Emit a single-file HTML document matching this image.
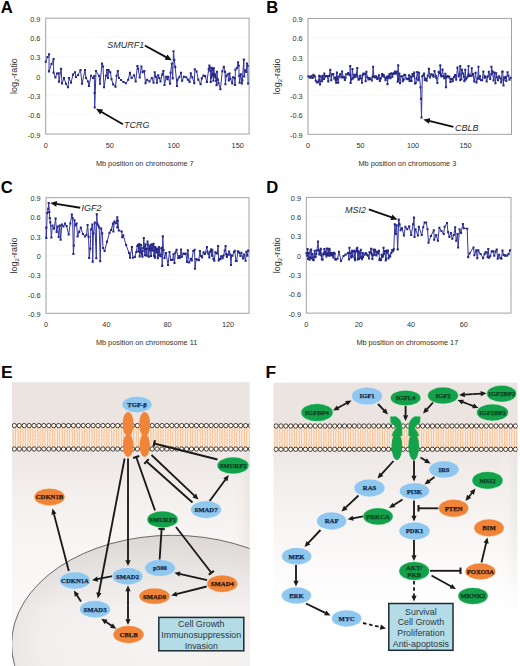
<!DOCTYPE html><html><head><meta charset="utf-8"><style>
html,body{margin:0;padding:0;background:#fff;width:520px;height:666px;overflow:hidden}
svg{display:block}
.ax{font-family:"Liberation Sans", sans-serif;font-size:7.3px;fill:#303030}
.yt{font-family:"Liberation Sans", sans-serif;font-size:9px;fill:#303030}
.gene{font-family:"Liberation Sans", sans-serif;font-size:9px;font-style:italic;fill:#2a2a2a}
.plet{font-family:"Liberation Sans", sans-serif;font-size:16.6px;font-weight:bold;fill:#000}
.nd{font-family:"Liberation Serif", serif;font-size:7.5px;font-weight:bold;text-anchor:middle}
.bx{font-family:"Liberation Sans", sans-serif;font-size:8.9px;fill:#2b3840;text-anchor:middle}
</style></head><body>
<svg width="520" height="666" viewBox="0 0 520 666">
<rect width="520" height="666" fill="#fff"/>
<line x1="45.7" y1="37.50" x2="249.1" y2="37.50" stroke="#f7f7f7" stroke-width="0.8"/>
<line x1="45.7" y1="56.80" x2="249.1" y2="56.80" stroke="#f7f7f7" stroke-width="0.8"/>
<line x1="45.7" y1="76.10" x2="249.1" y2="76.10" stroke="#f7f7f7" stroke-width="0.8"/>
<line x1="45.7" y1="95.40" x2="249.1" y2="95.40" stroke="#f7f7f7" stroke-width="0.8"/>
<line x1="45.7" y1="114.70" x2="249.1" y2="114.70" stroke="#f7f7f7" stroke-width="0.8"/>
<rect x="45.7" y="18.2" width="203.39999999999998" height="115.8" fill="none" stroke="#a0a0a0" stroke-width="1"/>
<text x="40.400000000000006" y="21.70" text-anchor="end" class="ax">0.9</text>
<text x="40.400000000000006" y="41.00" text-anchor="end" class="ax">0.6</text>
<text x="40.400000000000006" y="60.30" text-anchor="end" class="ax">0.3</text>
<text x="40.400000000000006" y="79.60" text-anchor="end" class="ax">0</text>
<text x="40.400000000000006" y="98.90" text-anchor="end" class="ax">-0.3</text>
<text x="40.400000000000006" y="118.20" text-anchor="end" class="ax">-0.6</text>
<text x="40.400000000000006" y="137.50" text-anchor="end" class="ax">-0.9</text>
<text x="45.70" y="147.90" text-anchor="middle" class="ax">0</text>
<text x="109.70" y="147.90" text-anchor="middle" class="ax">50</text>
<text x="173.70" y="147.90" text-anchor="middle" class="ax">100</text>
<text x="237.70" y="147.90" text-anchor="middle" class="ax">150</text>
<text x="144.80" y="165.60" text-anchor="middle" class="ax">Mb position on chromosome 7</text>
<text transform="translate(17.40,76.10) rotate(-90)" text-anchor="middle" class="yt">log<tspan font-size="6" dy="2">2</tspan><tspan dy="-2">-ratio</tspan></text>
<polyline points="45.80,61.80 47.50,57.00 49.10,54.30 49.00,71.40 51.50,64.00 53.60,59.10 53.60,72.60 55.40,77.40 57.00,73.50 58.70,73.20 59.00,81.60 61.10,68.70 62.00,83.40 64.00,78.00 66.00,83.80 68.00,87.30 69.00,78.00 71.00,82.70 73.00,74.60 75.00,72.30 76.00,77.00 78.00,75.00 80.50,70.00 82.00,83.80 85.00,70.00 86.00,78.00 88.00,81.50 89.00,86.00 91.00,75.80 93.00,78.00 94.30,76.00 94.60,93.00 94.70,107.50 96.00,71.00 99.00,75.80 100.00,83.80 102.00,63.60 103.00,66.50 104.00,87.30 106.00,75.80 107.00,70.00 108.00,78.00 108.60,70.00 110.30,72.30 111.50,79.20 113.20,84.40 115.50,86.70 116.60,75.80 117.80,71.10 119.00,78.00 121.00,80.00 123.50,82.00 125.90,83.30 128.20,79.80 129.90,72.90 131.60,78.00 134.00,75.20 135.70,81.50 137.40,66.00 138.20,68.80 139.70,77.50 141.40,66.50 142.60,72.30 144.30,71.10 145.50,83.30 147.20,79.80 149.50,81.50 151.80,78.00 153.60,82.70 154.70,72.30 155.90,76.90 157.00,82.70 158.20,75.20 159.30,78.00 160.50,81.50 162.20,74.60 163.40,71.10 164.50,85.00 166.20,76.90 167.40,79.20 168.30,76.70 170.00,83.60 170.60,72.70 171.80,63.50 172.70,78.40 173.50,51.30 174.30,60.00 175.20,66.90 177.00,86.00 177.50,79.60 179.30,77.30 181.00,72.70 182.10,80.80 183.90,76.70 186.20,77.30 187.90,79.60 189.60,81.90 190.80,73.30 192.30,77.30 194.30,83.10 194.80,69.20 196.60,71.50 198.30,79.60 200.60,84.20 201.80,78.40 203.50,75.60 205.20,76.10 206.90,81.90 208.70,69.20 209.40,65.50 209.80,67.71 210.25,70.74 210.70,82.03 211.15,77.64 211.60,67.88 212.05,74.66 212.50,75.58 212.95,69.19 213.40,80.69 213.85,68.27 214.30,73.82 214.75,76.33 215.20,74.61 215.65,77.74 216.10,80.76 216.55,85.13 217.00,71.68 217.45,78.97 217.90,79.92 218.50,83.10 220.40,89.20 222.30,71.20 223.80,66.90 225.00,71.90 225.40,84.20 226.20,75.80 227.70,74.20 228.80,80.40 229.60,73.50 230.40,78.80 232.30,83.50 233.10,77.30 234.60,78.10 235.00,85.00 235.40,69.60 236.90,68.10 238.10,62.30 238.80,65.80 239.20,75.80 239.60,82.70 240.80,74.20 241.90,83.50 242.30,80.40 243.80,59.60 244.20,76.50 245.00,70.40 246.20,71.90 246.90,63.50 247.70,65.80 248.10,83.50" fill="none" stroke="#3436a0" stroke-width="1.0" stroke-linejoin="round"/>
<path d="M44.75,60.75h2.1v2.1h-2.1zM46.45,55.95h2.1v2.1h-2.1zM48.05,53.25h2.1v2.1h-2.1zM47.95,70.35h2.1v2.1h-2.1zM50.45,62.95h2.1v2.1h-2.1zM52.55,58.05h2.1v2.1h-2.1zM52.55,71.55h2.1v2.1h-2.1zM54.35,76.35h2.1v2.1h-2.1zM55.95,72.45h2.1v2.1h-2.1zM57.65,72.15h2.1v2.1h-2.1zM57.95,80.55h2.1v2.1h-2.1zM60.05,67.65h2.1v2.1h-2.1zM60.95,82.35h2.1v2.1h-2.1zM62.95,76.95h2.1v2.1h-2.1zM64.95,82.75h2.1v2.1h-2.1zM66.95,86.25h2.1v2.1h-2.1zM67.95,76.95h2.1v2.1h-2.1zM69.95,81.65h2.1v2.1h-2.1zM71.95,73.55h2.1v2.1h-2.1zM73.95,71.25h2.1v2.1h-2.1zM74.95,75.95h2.1v2.1h-2.1zM76.95,73.95h2.1v2.1h-2.1zM79.45,68.95h2.1v2.1h-2.1zM80.95,82.75h2.1v2.1h-2.1zM83.95,68.95h2.1v2.1h-2.1zM84.95,76.95h2.1v2.1h-2.1zM86.95,80.45h2.1v2.1h-2.1zM87.95,84.95h2.1v2.1h-2.1zM89.95,74.75h2.1v2.1h-2.1zM91.95,76.95h2.1v2.1h-2.1zM93.25,74.95h2.1v2.1h-2.1zM93.55,91.95h2.1v2.1h-2.1zM93.65,106.45h2.1v2.1h-2.1zM94.95,69.95h2.1v2.1h-2.1zM97.95,74.75h2.1v2.1h-2.1zM98.95,82.75h2.1v2.1h-2.1zM100.95,62.55h2.1v2.1h-2.1zM101.95,65.45h2.1v2.1h-2.1zM102.95,86.25h2.1v2.1h-2.1zM104.95,74.75h2.1v2.1h-2.1zM105.95,68.95h2.1v2.1h-2.1zM106.95,76.95h2.1v2.1h-2.1zM107.55,68.95h2.1v2.1h-2.1zM109.25,71.25h2.1v2.1h-2.1zM110.45,78.15h2.1v2.1h-2.1zM112.15,83.35h2.1v2.1h-2.1zM114.45,85.65h2.1v2.1h-2.1zM115.55,74.75h2.1v2.1h-2.1zM116.75,70.05h2.1v2.1h-2.1zM117.95,76.95h2.1v2.1h-2.1zM119.95,78.95h2.1v2.1h-2.1zM122.45,80.95h2.1v2.1h-2.1zM124.85,82.25h2.1v2.1h-2.1zM127.15,78.75h2.1v2.1h-2.1zM128.85,71.85h2.1v2.1h-2.1zM130.55,76.95h2.1v2.1h-2.1zM132.95,74.15h2.1v2.1h-2.1zM134.65,80.45h2.1v2.1h-2.1zM136.35,64.95h2.1v2.1h-2.1zM137.15,67.75h2.1v2.1h-2.1zM138.65,76.45h2.1v2.1h-2.1zM140.35,65.45h2.1v2.1h-2.1zM141.55,71.25h2.1v2.1h-2.1zM143.25,70.05h2.1v2.1h-2.1zM144.45,82.25h2.1v2.1h-2.1zM146.15,78.75h2.1v2.1h-2.1zM148.45,80.45h2.1v2.1h-2.1zM150.75,76.95h2.1v2.1h-2.1zM152.55,81.65h2.1v2.1h-2.1zM153.65,71.25h2.1v2.1h-2.1zM154.85,75.85h2.1v2.1h-2.1zM155.95,81.65h2.1v2.1h-2.1zM157.15,74.15h2.1v2.1h-2.1zM158.25,76.95h2.1v2.1h-2.1zM159.45,80.45h2.1v2.1h-2.1zM161.15,73.55h2.1v2.1h-2.1zM162.35,70.05h2.1v2.1h-2.1zM163.45,83.95h2.1v2.1h-2.1zM165.15,75.85h2.1v2.1h-2.1zM166.35,78.15h2.1v2.1h-2.1zM167.25,75.65h2.1v2.1h-2.1zM168.95,82.55h2.1v2.1h-2.1zM169.55,71.65h2.1v2.1h-2.1zM170.75,62.45h2.1v2.1h-2.1zM171.65,77.35h2.1v2.1h-2.1zM172.45,50.25h2.1v2.1h-2.1zM173.25,58.95h2.1v2.1h-2.1zM174.15,65.85h2.1v2.1h-2.1zM175.95,84.95h2.1v2.1h-2.1zM176.45,78.55h2.1v2.1h-2.1zM178.25,76.25h2.1v2.1h-2.1zM179.95,71.65h2.1v2.1h-2.1zM181.05,79.75h2.1v2.1h-2.1zM182.85,75.65h2.1v2.1h-2.1zM185.15,76.25h2.1v2.1h-2.1zM186.85,78.55h2.1v2.1h-2.1zM188.55,80.85h2.1v2.1h-2.1zM189.75,72.25h2.1v2.1h-2.1zM191.25,76.25h2.1v2.1h-2.1zM193.25,82.05h2.1v2.1h-2.1zM193.75,68.15h2.1v2.1h-2.1zM195.55,70.45h2.1v2.1h-2.1zM197.25,78.55h2.1v2.1h-2.1zM199.55,83.15h2.1v2.1h-2.1zM200.75,77.35h2.1v2.1h-2.1zM202.45,74.55h2.1v2.1h-2.1zM204.15,75.05h2.1v2.1h-2.1zM205.85,80.85h2.1v2.1h-2.1zM207.65,68.15h2.1v2.1h-2.1zM208.35,64.45h2.1v2.1h-2.1zM208.75,66.66h2.1v2.1h-2.1zM209.20,69.69h2.1v2.1h-2.1zM209.65,80.98h2.1v2.1h-2.1zM210.10,76.59h2.1v2.1h-2.1zM210.55,66.83h2.1v2.1h-2.1zM211.00,73.61h2.1v2.1h-2.1zM211.45,74.53h2.1v2.1h-2.1zM211.90,68.14h2.1v2.1h-2.1zM212.35,79.64h2.1v2.1h-2.1zM212.80,67.22h2.1v2.1h-2.1zM213.25,72.77h2.1v2.1h-2.1zM213.70,75.28h2.1v2.1h-2.1zM214.15,73.56h2.1v2.1h-2.1zM214.60,76.69h2.1v2.1h-2.1zM215.05,79.71h2.1v2.1h-2.1zM215.50,84.08h2.1v2.1h-2.1zM215.95,70.63h2.1v2.1h-2.1zM216.40,77.92h2.1v2.1h-2.1zM216.85,78.87h2.1v2.1h-2.1zM217.45,82.05h2.1v2.1h-2.1zM219.35,88.15h2.1v2.1h-2.1zM221.25,70.15h2.1v2.1h-2.1zM222.75,65.85h2.1v2.1h-2.1zM223.95,70.85h2.1v2.1h-2.1zM224.35,83.15h2.1v2.1h-2.1zM225.15,74.75h2.1v2.1h-2.1zM226.65,73.15h2.1v2.1h-2.1zM227.75,79.35h2.1v2.1h-2.1zM228.55,72.45h2.1v2.1h-2.1zM229.35,77.75h2.1v2.1h-2.1zM231.25,82.45h2.1v2.1h-2.1zM232.05,76.25h2.1v2.1h-2.1zM233.55,77.05h2.1v2.1h-2.1zM233.95,83.95h2.1v2.1h-2.1zM234.35,68.55h2.1v2.1h-2.1zM235.85,67.05h2.1v2.1h-2.1zM237.05,61.25h2.1v2.1h-2.1zM237.75,64.75h2.1v2.1h-2.1zM238.15,74.75h2.1v2.1h-2.1zM238.55,81.65h2.1v2.1h-2.1zM239.75,73.15h2.1v2.1h-2.1zM240.85,82.45h2.1v2.1h-2.1zM241.25,79.35h2.1v2.1h-2.1zM242.75,58.55h2.1v2.1h-2.1zM243.15,75.45h2.1v2.1h-2.1zM243.95,69.35h2.1v2.1h-2.1zM245.15,70.85h2.1v2.1h-2.1zM245.85,62.45h2.1v2.1h-2.1zM246.65,64.75h2.1v2.1h-2.1zM247.05,82.45h2.1v2.1h-2.1z" fill="#262884"/>
<text x="107.3" y="48.0" class="gene">SMURF1</text>
<line x1="144.80" y1="45.50" x2="166.53" y2="57.33" stroke="#111" stroke-width="1.9"/>
<polygon points="171.80,60.20 164.70,59.64 167.48,54.54" fill="#111"/>
<text x="124" y="127.5" class="gene">TCRG</text>
<line x1="122.90" y1="124.20" x2="101.20" y2="111.70" stroke="#111" stroke-width="1.9"/>
<polygon points="96.00,108.70 103.08,109.43 100.18,114.46" fill="#111"/>
<text x="0.8" y="13.2" class="plet">A</text>
<line x1="308.0" y1="37.72" x2="511.5" y2="37.72" stroke="#f7f7f7" stroke-width="0.8"/>
<line x1="308.0" y1="57.03" x2="511.5" y2="57.03" stroke="#f7f7f7" stroke-width="0.8"/>
<line x1="308.0" y1="76.35" x2="511.5" y2="76.35" stroke="#f7f7f7" stroke-width="0.8"/>
<line x1="308.0" y1="95.67" x2="511.5" y2="95.67" stroke="#f7f7f7" stroke-width="0.8"/>
<line x1="308.0" y1="114.98" x2="511.5" y2="114.98" stroke="#f7f7f7" stroke-width="0.8"/>
<rect x="308.0" y="18.4" width="203.5" height="115.9" fill="none" stroke="#a0a0a0" stroke-width="1"/>
<text x="302.7" y="21.90" text-anchor="end" class="ax">0.9</text>
<text x="302.7" y="41.22" text-anchor="end" class="ax">0.6</text>
<text x="302.7" y="60.53" text-anchor="end" class="ax">0.3</text>
<text x="302.7" y="79.85" text-anchor="end" class="ax">0</text>
<text x="302.7" y="99.17" text-anchor="end" class="ax">-0.3</text>
<text x="302.7" y="118.48" text-anchor="end" class="ax">-0.6</text>
<text x="302.7" y="137.80" text-anchor="end" class="ax">-0.9</text>
<text x="308.00" y="147.90" text-anchor="middle" class="ax">0</text>
<text x="360.50" y="147.90" text-anchor="middle" class="ax">50</text>
<text x="413.00" y="147.90" text-anchor="middle" class="ax">100</text>
<text x="465.50" y="147.90" text-anchor="middle" class="ax">150</text>
<text x="407.40" y="165.60" text-anchor="middle" class="ax">Mb position on chromosome 3</text>
<text transform="translate(279.90,76.35) rotate(-90)" text-anchor="middle" class="yt">log<tspan font-size="6" dy="2">2</tspan><tspan dy="-2">-ratio</tspan></text>
<polyline points="308.50,76.35 309.69,77.23 310.30,77.81 311.47,76.16 312.59,77.93 313.42,74.77 314.08,76.01 314.88,76.44 315.78,80.68 316.88,82.47 318.14,82.28 318.70,80.43 319.17,75.85 320.03,84.45 321.23,76.51 322.09,81.28 322.73,75.88 323.32,78.95 323.91,78.95 324.34,73.50 324.90,76.71 326.07,76.14 327.22,76.10 328.27,81.33 329.16,75.97 330.32,69.91 331.26,80.21 332.01,74.49 332.56,74.15 333.31,74.20 334.24,78.53 335.21,77.84 335.76,80.17 336.20,82.79 336.39,76.98 336.89,72.66 337.50,78.91 338.18,82.76 339.17,76.66 340.31,74.13 341.51,77.54 342.06,71.45 343.27,77.33 343.85,76.74 344.82,79.94 345.56,77.78 346.19,74.25 347.36,74.20 348.25,72.96 349.32,74.47 350.06,75.23 350.20,66.05 350.59,82.90 351.57,79.25 352.44,69.12 353.16,78.36 354.16,74.76 355.03,77.01 356.23,74.68 357.30,67.98 357.45,76.60 358.51,79.74 359.05,79.11 360.17,75.73 361.13,78.25 361.99,82.78 362.61,75.18 363.34,73.62 364.06,73.91 364.97,73.84 365.63,81.30 366.43,71.71 367.30,77.23 368.48,79.49 369.40,78.10 370.57,78.90 371.78,80.46 372.57,76.85 373.10,66.69 373.81,76.31 374.92,77.40 375.95,76.32 376.66,77.32 377.26,78.95 377.86,78.51 379.00,75.26 379.83,81.03 380.82,78.38 382.06,73.98 383.02,76.12 383.60,74.89 384.38,76.81 385.49,80.27 386.01,77.98 387.12,76.46 387.50,84.08 387.99,77.99 388.46,77.32 388.90,76.28 389.53,74.16 390.44,78.16 391.37,73.29 392.37,76.80 393.06,73.83 393.94,73.38 394.93,71.47 395.51,73.58 395.97,73.54 397.21,71.57 397.68,81.79 398.20,65.40 398.38,79.62 399.33,73.65 400.03,83.14 401.13,76.21 402.20,76.23 402.80,81.22 403.77,79.48 404.27,74.72 405.23,75.04 406.34,78.47 407.38,79.20 408.57,78.87 409.01,75.26 409.62,80.83 410.85,76.64 411.49,81.02 412.47,73.96 413.22,76.09 414.21,72.63 414.95,83.43 415.84,82.69 416.47,78.56 417.29,72.06 418.35,80.12 419.03,72.71 420.50,87.30 421.00,98.89 421.50,117.56 422.30,76.35 423.00,75.51 423.57,75.55 424.09,73.50 424.79,79.87 425.98,78.44 426.60,80.78 427.85,75.74 428.94,68.83 430.04,77.56 431.24,74.19 432.02,74.71 432.94,75.37 433.56,76.78 434.49,70.96 435.75,75.73 436.36,77.92 437.39,82.96 438.74,71.86 439.95,73.04 440.30,65.40 440.76,74.85 441.37,76.52 442.50,69.67 443.35,75.94 444.18,78.24 445.39,73.68 446.00,87.30 446.19,77.09 447.29,75.97 448.49,77.27 449.29,76.59 450.42,82.07 451.00,79.12 452.20,78.78 452.76,81.19 454.10,76.96 455.06,74.94 456.19,79.67 457.46,67.66 458.60,76.52 459.48,74.43 460.20,66.05 460.21,80.13 461.31,79.32 461.81,69.62 463.06,73.50 463.73,76.49 464.39,81.11 465.29,69.80 465.90,79.47 466.79,77.72 467.84,76.53 468.50,66.05 468.76,74.52 469.68,75.87 470.61,76.04 471.77,68.24 472.38,75.48 472.93,74.16 474.23,81.33 475.55,72.89 476.46,82.53 477.73,78.42 478.47,66.69 478.98,78.82 479.85,75.93 480.98,80.30 482.12,80.30 483.33,71.46 484.44,77.60 485.04,76.23 485.64,77.06 486.63,81.47 487.92,76.47 488.84,71.71 490.16,78.84 491.33,74.14 491.40,66.69 492.50,71.60 493.53,80.55 494.37,72.49 495.44,83.29 496.19,73.32 496.83,77.24 497.97,80.20 499.08,76.41 500.39,78.29 501.21,82.38 502.13,71.78 502.66,71.43 503.50,85.36 503.61,79.87 504.10,77.54 505.11,77.85 505.63,76.92 506.28,80.85 507.52,72.18 508.38,75.69 509.47,79.61 510.64,77.77" fill="none" stroke="#3436a0" stroke-width="1.0" stroke-linejoin="round"/>
<path d="M307.45,75.30h2.1v2.1h-2.1zM308.64,76.18h2.1v2.1h-2.1zM309.25,76.76h2.1v2.1h-2.1zM310.42,75.11h2.1v2.1h-2.1zM311.54,76.88h2.1v2.1h-2.1zM312.37,73.72h2.1v2.1h-2.1zM313.03,74.96h2.1v2.1h-2.1zM313.83,75.39h2.1v2.1h-2.1zM314.73,79.63h2.1v2.1h-2.1zM315.83,81.42h2.1v2.1h-2.1zM317.09,81.23h2.1v2.1h-2.1zM317.65,79.38h2.1v2.1h-2.1zM318.12,74.80h2.1v2.1h-2.1zM318.98,83.40h2.1v2.1h-2.1zM320.18,75.46h2.1v2.1h-2.1zM321.04,80.23h2.1v2.1h-2.1zM321.68,74.83h2.1v2.1h-2.1zM322.27,77.90h2.1v2.1h-2.1zM322.86,77.90h2.1v2.1h-2.1zM323.29,72.45h2.1v2.1h-2.1zM323.85,75.66h2.1v2.1h-2.1zM325.02,75.09h2.1v2.1h-2.1zM326.17,75.05h2.1v2.1h-2.1zM327.22,80.28h2.1v2.1h-2.1zM328.11,74.92h2.1v2.1h-2.1zM329.27,68.86h2.1v2.1h-2.1zM330.21,79.16h2.1v2.1h-2.1zM330.96,73.44h2.1v2.1h-2.1zM331.51,73.10h2.1v2.1h-2.1zM332.26,73.15h2.1v2.1h-2.1zM333.19,77.48h2.1v2.1h-2.1zM334.16,76.79h2.1v2.1h-2.1zM334.71,79.12h2.1v2.1h-2.1zM335.15,81.74h2.1v2.1h-2.1zM335.34,75.93h2.1v2.1h-2.1zM335.84,71.61h2.1v2.1h-2.1zM336.45,77.86h2.1v2.1h-2.1zM337.13,81.71h2.1v2.1h-2.1zM338.12,75.61h2.1v2.1h-2.1zM339.26,73.08h2.1v2.1h-2.1zM340.46,76.49h2.1v2.1h-2.1zM341.01,70.40h2.1v2.1h-2.1zM342.22,76.28h2.1v2.1h-2.1zM342.80,75.69h2.1v2.1h-2.1zM343.77,78.89h2.1v2.1h-2.1zM344.51,76.73h2.1v2.1h-2.1zM345.14,73.20h2.1v2.1h-2.1zM346.31,73.15h2.1v2.1h-2.1zM347.20,71.91h2.1v2.1h-2.1zM348.27,73.42h2.1v2.1h-2.1zM349.01,74.18h2.1v2.1h-2.1zM349.15,65.00h2.1v2.1h-2.1zM349.54,81.85h2.1v2.1h-2.1zM350.52,78.20h2.1v2.1h-2.1zM351.39,68.07h2.1v2.1h-2.1zM352.11,77.31h2.1v2.1h-2.1zM353.11,73.71h2.1v2.1h-2.1zM353.98,75.96h2.1v2.1h-2.1zM355.18,73.63h2.1v2.1h-2.1zM356.25,66.93h2.1v2.1h-2.1zM356.40,75.55h2.1v2.1h-2.1zM357.46,78.69h2.1v2.1h-2.1zM358.00,78.06h2.1v2.1h-2.1zM359.12,74.68h2.1v2.1h-2.1zM360.08,77.20h2.1v2.1h-2.1zM360.94,81.73h2.1v2.1h-2.1zM361.56,74.13h2.1v2.1h-2.1zM362.29,72.57h2.1v2.1h-2.1zM363.01,72.86h2.1v2.1h-2.1zM363.92,72.79h2.1v2.1h-2.1zM364.58,80.25h2.1v2.1h-2.1zM365.38,70.66h2.1v2.1h-2.1zM366.25,76.18h2.1v2.1h-2.1zM367.43,78.44h2.1v2.1h-2.1zM368.35,77.05h2.1v2.1h-2.1zM369.52,77.85h2.1v2.1h-2.1zM370.73,79.41h2.1v2.1h-2.1zM371.52,75.80h2.1v2.1h-2.1zM372.05,65.64h2.1v2.1h-2.1zM372.76,75.26h2.1v2.1h-2.1zM373.87,76.35h2.1v2.1h-2.1zM374.90,75.27h2.1v2.1h-2.1zM375.61,76.27h2.1v2.1h-2.1zM376.21,77.90h2.1v2.1h-2.1zM376.81,77.46h2.1v2.1h-2.1zM377.95,74.21h2.1v2.1h-2.1zM378.78,79.98h2.1v2.1h-2.1zM379.77,77.33h2.1v2.1h-2.1zM381.01,72.93h2.1v2.1h-2.1zM381.97,75.07h2.1v2.1h-2.1zM382.55,73.84h2.1v2.1h-2.1zM383.33,75.76h2.1v2.1h-2.1zM384.44,79.22h2.1v2.1h-2.1zM384.96,76.93h2.1v2.1h-2.1zM386.07,75.41h2.1v2.1h-2.1zM386.45,83.03h2.1v2.1h-2.1zM386.94,76.94h2.1v2.1h-2.1zM387.41,76.27h2.1v2.1h-2.1zM387.85,75.23h2.1v2.1h-2.1zM388.48,73.11h2.1v2.1h-2.1zM389.39,77.11h2.1v2.1h-2.1zM390.32,72.24h2.1v2.1h-2.1zM391.32,75.75h2.1v2.1h-2.1zM392.01,72.78h2.1v2.1h-2.1zM392.89,72.33h2.1v2.1h-2.1zM393.88,70.42h2.1v2.1h-2.1zM394.46,72.53h2.1v2.1h-2.1zM394.92,72.49h2.1v2.1h-2.1zM396.16,70.52h2.1v2.1h-2.1zM396.63,80.74h2.1v2.1h-2.1zM397.15,64.35h2.1v2.1h-2.1zM397.33,78.57h2.1v2.1h-2.1zM398.28,72.60h2.1v2.1h-2.1zM398.98,82.09h2.1v2.1h-2.1zM400.08,75.16h2.1v2.1h-2.1zM401.15,75.18h2.1v2.1h-2.1zM401.75,80.17h2.1v2.1h-2.1zM402.72,78.43h2.1v2.1h-2.1zM403.22,73.67h2.1v2.1h-2.1zM404.18,73.99h2.1v2.1h-2.1zM405.29,77.42h2.1v2.1h-2.1zM406.33,78.15h2.1v2.1h-2.1zM407.52,77.82h2.1v2.1h-2.1zM407.96,74.21h2.1v2.1h-2.1zM408.57,79.78h2.1v2.1h-2.1zM409.80,75.59h2.1v2.1h-2.1zM410.44,79.97h2.1v2.1h-2.1zM411.42,72.91h2.1v2.1h-2.1zM412.17,75.04h2.1v2.1h-2.1zM413.16,71.58h2.1v2.1h-2.1zM413.90,82.38h2.1v2.1h-2.1zM414.79,81.64h2.1v2.1h-2.1zM415.42,77.51h2.1v2.1h-2.1zM416.24,71.01h2.1v2.1h-2.1zM417.30,79.07h2.1v2.1h-2.1zM417.98,71.66h2.1v2.1h-2.1zM419.45,86.25h2.1v2.1h-2.1zM419.95,97.84h2.1v2.1h-2.1zM420.45,116.51h2.1v2.1h-2.1zM421.25,75.30h2.1v2.1h-2.1zM421.95,74.46h2.1v2.1h-2.1zM422.52,74.50h2.1v2.1h-2.1zM423.04,72.45h2.1v2.1h-2.1zM423.74,78.82h2.1v2.1h-2.1zM424.93,77.39h2.1v2.1h-2.1zM425.55,79.73h2.1v2.1h-2.1zM426.80,74.69h2.1v2.1h-2.1zM427.89,67.78h2.1v2.1h-2.1zM428.99,76.51h2.1v2.1h-2.1zM430.19,73.14h2.1v2.1h-2.1zM430.97,73.66h2.1v2.1h-2.1zM431.89,74.32h2.1v2.1h-2.1zM432.51,75.73h2.1v2.1h-2.1zM433.44,69.91h2.1v2.1h-2.1zM434.70,74.68h2.1v2.1h-2.1zM435.31,76.87h2.1v2.1h-2.1zM436.34,81.91h2.1v2.1h-2.1zM437.69,70.81h2.1v2.1h-2.1zM438.90,71.99h2.1v2.1h-2.1zM439.25,64.35h2.1v2.1h-2.1zM439.71,73.80h2.1v2.1h-2.1zM440.32,75.47h2.1v2.1h-2.1zM441.45,68.62h2.1v2.1h-2.1zM442.30,74.89h2.1v2.1h-2.1zM443.13,77.19h2.1v2.1h-2.1zM444.34,72.63h2.1v2.1h-2.1zM444.95,86.25h2.1v2.1h-2.1zM445.14,76.04h2.1v2.1h-2.1zM446.24,74.92h2.1v2.1h-2.1zM447.44,76.22h2.1v2.1h-2.1zM448.24,75.54h2.1v2.1h-2.1zM449.37,81.02h2.1v2.1h-2.1zM449.95,78.07h2.1v2.1h-2.1zM451.15,77.73h2.1v2.1h-2.1zM451.71,80.14h2.1v2.1h-2.1zM453.05,75.91h2.1v2.1h-2.1zM454.01,73.89h2.1v2.1h-2.1zM455.14,78.62h2.1v2.1h-2.1zM456.41,66.61h2.1v2.1h-2.1zM457.55,75.47h2.1v2.1h-2.1zM458.43,73.38h2.1v2.1h-2.1zM459.15,65.00h2.1v2.1h-2.1zM459.16,79.08h2.1v2.1h-2.1zM460.26,78.27h2.1v2.1h-2.1zM460.76,68.57h2.1v2.1h-2.1zM462.01,72.45h2.1v2.1h-2.1zM462.68,75.44h2.1v2.1h-2.1zM463.34,80.06h2.1v2.1h-2.1zM464.24,68.75h2.1v2.1h-2.1zM464.85,78.42h2.1v2.1h-2.1zM465.74,76.67h2.1v2.1h-2.1zM466.79,75.48h2.1v2.1h-2.1zM467.45,65.00h2.1v2.1h-2.1zM467.71,73.47h2.1v2.1h-2.1zM468.63,74.82h2.1v2.1h-2.1zM469.56,74.99h2.1v2.1h-2.1zM470.72,67.19h2.1v2.1h-2.1zM471.33,74.43h2.1v2.1h-2.1zM471.88,73.11h2.1v2.1h-2.1zM473.18,80.28h2.1v2.1h-2.1zM474.50,71.84h2.1v2.1h-2.1zM475.41,81.48h2.1v2.1h-2.1zM476.68,77.37h2.1v2.1h-2.1zM477.42,65.64h2.1v2.1h-2.1zM477.93,77.77h2.1v2.1h-2.1zM478.80,74.88h2.1v2.1h-2.1zM479.93,79.25h2.1v2.1h-2.1zM481.07,79.25h2.1v2.1h-2.1zM482.28,70.41h2.1v2.1h-2.1zM483.39,76.55h2.1v2.1h-2.1zM483.99,75.18h2.1v2.1h-2.1zM484.59,76.01h2.1v2.1h-2.1zM485.58,80.42h2.1v2.1h-2.1zM486.87,75.42h2.1v2.1h-2.1zM487.79,70.66h2.1v2.1h-2.1zM489.11,77.79h2.1v2.1h-2.1zM490.28,73.09h2.1v2.1h-2.1zM490.35,65.64h2.1v2.1h-2.1zM491.45,70.55h2.1v2.1h-2.1zM492.48,79.50h2.1v2.1h-2.1zM493.32,71.44h2.1v2.1h-2.1zM494.39,82.24h2.1v2.1h-2.1zM495.14,72.27h2.1v2.1h-2.1zM495.78,76.19h2.1v2.1h-2.1zM496.92,79.15h2.1v2.1h-2.1zM498.03,75.36h2.1v2.1h-2.1zM499.34,77.24h2.1v2.1h-2.1zM500.16,81.33h2.1v2.1h-2.1zM501.08,70.73h2.1v2.1h-2.1zM501.61,70.38h2.1v2.1h-2.1zM502.45,84.31h2.1v2.1h-2.1zM502.56,78.82h2.1v2.1h-2.1zM503.05,76.49h2.1v2.1h-2.1zM504.06,76.80h2.1v2.1h-2.1zM504.58,75.87h2.1v2.1h-2.1zM505.23,79.80h2.1v2.1h-2.1zM506.47,71.13h2.1v2.1h-2.1zM507.33,74.64h2.1v2.1h-2.1zM508.42,78.56h2.1v2.1h-2.1zM509.59,76.72h2.1v2.1h-2.1z" fill="#262884"/>
<text x="455.1" y="130.5" class="gene">CBLB</text>
<line x1="453.40" y1="126.80" x2="429.13" y2="120.83" stroke="#111" stroke-width="1.9"/>
<polygon points="423.30,119.40 430.30,118.14 428.92,123.77" fill="#111"/>
<text x="266.3" y="13.2" class="plet">B</text>
<line x1="46.0" y1="216.97" x2="249.0" y2="216.97" stroke="#f7f7f7" stroke-width="0.8"/>
<line x1="46.0" y1="236.23" x2="249.0" y2="236.23" stroke="#f7f7f7" stroke-width="0.8"/>
<line x1="46.0" y1="255.50" x2="249.0" y2="255.50" stroke="#f7f7f7" stroke-width="0.8"/>
<line x1="46.0" y1="274.77" x2="249.0" y2="274.77" stroke="#f7f7f7" stroke-width="0.8"/>
<line x1="46.0" y1="294.03" x2="249.0" y2="294.03" stroke="#f7f7f7" stroke-width="0.8"/>
<rect x="46.0" y="197.7" width="203.0" height="115.60000000000002" fill="none" stroke="#a0a0a0" stroke-width="1"/>
<text x="40.7" y="201.20" text-anchor="end" class="ax">0.9</text>
<text x="40.7" y="220.47" text-anchor="end" class="ax">0.6</text>
<text x="40.7" y="239.73" text-anchor="end" class="ax">0.3</text>
<text x="40.7" y="259.00" text-anchor="end" class="ax">0</text>
<text x="40.7" y="278.27" text-anchor="end" class="ax">-0.3</text>
<text x="40.7" y="297.53" text-anchor="end" class="ax">-0.6</text>
<text x="40.7" y="316.80" text-anchor="end" class="ax">-0.9</text>
<text x="46.00" y="326.80" text-anchor="middle" class="ax">0</text>
<text x="106.40" y="326.80" text-anchor="middle" class="ax">40</text>
<text x="167.50" y="326.80" text-anchor="middle" class="ax">80</text>
<text x="228.00" y="326.80" text-anchor="middle" class="ax">120</text>
<text x="146.60" y="344.90" text-anchor="middle" class="ax">Mb position on chromosome 11</text>
<text transform="translate(17.20,255.50) rotate(-90)" text-anchor="middle" class="yt">log<tspan font-size="6" dy="2">2</tspan><tspan dy="-2">-ratio</tspan></text>
<polyline points="46.30,227.65 46.30,238.05 47.20,212.96 48.20,208.76 48.70,202.96 49.30,211.86 49.80,218.16 50.30,222.36 51.40,237.55 52.40,225.56 54.00,228.65 55.60,218.66 56.60,231.85 57.70,226.56 58.70,237.05 59.80,225.56 60.60,239.65 61.90,224.46 63.40,226.56 65.00,223.46 66.60,226.06 68.70,234.45 70.30,223.46 71.80,214.46 72.60,218.16 73.40,253.85 73.90,245.45 74.50,220.26 75.50,225.56 76.60,223.46 77.60,236.55 79.20,231.85 80.80,227.65 82.90,233.95 85.00,236.55 86.50,234.95 87.60,224.96 88.60,237.05 89.20,258.05 90.20,248.65 90.90,229.45 92.40,224.56 92.70,261.65 93.40,233.35 94.80,222.66 96.30,258.25 96.80,214.36 97.30,223.66 98.30,225.56 99.20,227.55 100.20,261.25 101.20,228.45 102.20,233.35 103.10,248.05 104.60,250.95 107.00,241.65 109.50,232.85 111.00,229.95 112.90,223.66 113.40,231.45 114.40,221.66 115.80,223.16 117.30,217.26 117.30,227.55 117.80,220.66 118.80,230.45 121.70,231.45 122.20,237.25 123.20,235.35 126.10,245.05 129.00,252.95 130.00,257.75 131.90,247.05 132.90,257.75 134.90,256.85 136.30,251.95 137.30,246.05 138.00,244.85 138.45,251.47 138.73,245.12 139.33,244.04 139.65,256.33 140.14,248.22 140.60,252.33 140.97,244.98 141.52,252.44 141.98,254.48 142.44,256.78 142.79,250.80 143.23,248.00 143.80,238.05 144.30,246.35 144.86,255.19 145.18,249.59 145.54,244.22 146.14,249.07 146.46,252.48 146.80,255.67 147.50,241.55 148.00,244.51 148.34,248.89 148.78,256.74 149.30,248.80 149.58,246.29 150.21,250.49 150.73,244.82 151.01,255.89 151.49,248.37 151.87,245.30 152.21,244.40 152.78,250.58 153.50,243.85 154.00,255.66 154.34,246.86 154.83,257.69 155.11,256.52 155.44,247.26 155.72,249.86 156.25,252.46 156.83,248.87 157.21,249.41 157.83,258.28 158.23,251.72 158.61,255.75 158.90,246.93 159.31,249.24 159.88,255.69 160.35,254.65 160.87,256.20 161.47,248.00 161.97,247.92 162.20,265.85 162.80,236.35 163.50,250.05 164.50,258.05 166.00,253.05 168.00,265.05 169.50,252.05 171.00,260.06 172.71,259.68 173.53,254.08 174.48,263.03 175.41,252.47 176.56,249.90 178.24,257.96 179.19,256.03 180.05,257.60 181.07,249.59 181.97,256.82 183.41,253.60 184.86,253.98 185.78,253.46 186.97,261.83 187.87,250.26 189.23,262.54 190.96,258.85 191.81,260.34 193.30,251.07 194.56,249.74 195.00,268.75 196.18,259.11 197.79,259.70 198.85,260.11 199.89,250.98 201.08,256.02 202.15,257.53 203.56,252.41 204.99,254.05 206.90,246.95 207.50,252.12 208.49,253.86 209.33,257.48 210.14,251.66 211.24,249.40 211.93,255.74 212.43,250.22 213.42,259.02 214.31,260.67 215.27,252.23 216.17,252.81 217.13,253.44 218.10,246.05 218.60,260.44 219.52,258.73 220.36,259.23 221.13,256.41 221.65,256.27 222.65,258.22 223.64,255.50 224.69,250.46 225.60,246.15 226.20,254.13 226.87,256.86 227.84,254.76 229.12,251.57 230.21,254.60 231.00,265.05 231.60,255.54 232.45,255.68 234.00,251.93 234.73,250.79 235.89,260.77 236.65,260.95 237.89,251.37 239.01,252.33 240.41,256.01 241.41,252.86 242.96,258.48 244.10,254.51 245.53,260.73 246.33,251.80 247.39,255.63 248.18,250.64" fill="none" stroke="#3436a0" stroke-width="1.0" stroke-linejoin="round"/>
<path d="M45.25,226.60h2.1v2.1h-2.1zM45.25,237.00h2.1v2.1h-2.1zM46.15,211.91h2.1v2.1h-2.1zM47.15,207.71h2.1v2.1h-2.1zM47.65,201.91h2.1v2.1h-2.1zM48.25,210.81h2.1v2.1h-2.1zM48.75,217.11h2.1v2.1h-2.1zM49.25,221.31h2.1v2.1h-2.1zM50.35,236.50h2.1v2.1h-2.1zM51.35,224.51h2.1v2.1h-2.1zM52.95,227.60h2.1v2.1h-2.1zM54.55,217.61h2.1v2.1h-2.1zM55.55,230.80h2.1v2.1h-2.1zM56.65,225.51h2.1v2.1h-2.1zM57.65,236.00h2.1v2.1h-2.1zM58.75,224.51h2.1v2.1h-2.1zM59.55,238.60h2.1v2.1h-2.1zM60.85,223.41h2.1v2.1h-2.1zM62.35,225.51h2.1v2.1h-2.1zM63.95,222.41h2.1v2.1h-2.1zM65.55,225.01h2.1v2.1h-2.1zM67.65,233.40h2.1v2.1h-2.1zM69.25,222.41h2.1v2.1h-2.1zM70.75,213.41h2.1v2.1h-2.1zM71.55,217.11h2.1v2.1h-2.1zM72.35,252.80h2.1v2.1h-2.1zM72.85,244.40h2.1v2.1h-2.1zM73.45,219.21h2.1v2.1h-2.1zM74.45,224.51h2.1v2.1h-2.1zM75.55,222.41h2.1v2.1h-2.1zM76.55,235.50h2.1v2.1h-2.1zM78.15,230.80h2.1v2.1h-2.1zM79.75,226.60h2.1v2.1h-2.1zM81.85,232.90h2.1v2.1h-2.1zM83.95,235.50h2.1v2.1h-2.1zM85.45,233.90h2.1v2.1h-2.1zM86.55,223.91h2.1v2.1h-2.1zM87.55,236.00h2.1v2.1h-2.1zM88.15,257.00h2.1v2.1h-2.1zM89.15,247.60h2.1v2.1h-2.1zM89.85,228.40h2.1v2.1h-2.1zM91.35,223.51h2.1v2.1h-2.1zM91.65,260.60h2.1v2.1h-2.1zM92.35,232.30h2.1v2.1h-2.1zM93.75,221.61h2.1v2.1h-2.1zM95.25,257.20h2.1v2.1h-2.1zM95.75,213.31h2.1v2.1h-2.1zM96.25,222.61h2.1v2.1h-2.1zM97.25,224.51h2.1v2.1h-2.1zM98.15,226.50h2.1v2.1h-2.1zM99.15,260.20h2.1v2.1h-2.1zM100.15,227.40h2.1v2.1h-2.1zM101.15,232.30h2.1v2.1h-2.1zM102.05,247.00h2.1v2.1h-2.1zM103.55,249.90h2.1v2.1h-2.1zM105.95,240.60h2.1v2.1h-2.1zM108.45,231.80h2.1v2.1h-2.1zM109.95,228.90h2.1v2.1h-2.1zM111.85,222.61h2.1v2.1h-2.1zM112.35,230.40h2.1v2.1h-2.1zM113.35,220.61h2.1v2.1h-2.1zM114.75,222.11h2.1v2.1h-2.1zM116.25,216.21h2.1v2.1h-2.1zM116.25,226.50h2.1v2.1h-2.1zM116.75,219.61h2.1v2.1h-2.1zM117.75,229.40h2.1v2.1h-2.1zM120.65,230.40h2.1v2.1h-2.1zM121.15,236.20h2.1v2.1h-2.1zM122.15,234.30h2.1v2.1h-2.1zM125.05,244.00h2.1v2.1h-2.1zM127.95,251.90h2.1v2.1h-2.1zM128.95,256.70h2.1v2.1h-2.1zM130.85,246.00h2.1v2.1h-2.1zM131.85,256.70h2.1v2.1h-2.1zM133.85,255.80h2.1v2.1h-2.1zM135.25,250.90h2.1v2.1h-2.1zM136.25,245.00h2.1v2.1h-2.1zM136.95,243.80h2.1v2.1h-2.1zM137.40,250.42h2.1v2.1h-2.1zM137.68,244.07h2.1v2.1h-2.1zM138.28,242.99h2.1v2.1h-2.1zM138.60,255.28h2.1v2.1h-2.1zM139.09,247.17h2.1v2.1h-2.1zM139.55,251.28h2.1v2.1h-2.1zM139.92,243.93h2.1v2.1h-2.1zM140.47,251.39h2.1v2.1h-2.1zM140.93,253.43h2.1v2.1h-2.1zM141.39,255.73h2.1v2.1h-2.1zM141.74,249.75h2.1v2.1h-2.1zM142.18,246.95h2.1v2.1h-2.1zM142.75,237.00h2.1v2.1h-2.1zM143.25,245.30h2.1v2.1h-2.1zM143.81,254.14h2.1v2.1h-2.1zM144.13,248.54h2.1v2.1h-2.1zM144.49,243.17h2.1v2.1h-2.1zM145.09,248.02h2.1v2.1h-2.1zM145.41,251.43h2.1v2.1h-2.1zM145.75,254.62h2.1v2.1h-2.1zM146.45,240.50h2.1v2.1h-2.1zM146.95,243.46h2.1v2.1h-2.1zM147.29,247.84h2.1v2.1h-2.1zM147.73,255.69h2.1v2.1h-2.1zM148.25,247.75h2.1v2.1h-2.1zM148.53,245.24h2.1v2.1h-2.1zM149.16,249.44h2.1v2.1h-2.1zM149.68,243.77h2.1v2.1h-2.1zM149.96,254.84h2.1v2.1h-2.1zM150.44,247.32h2.1v2.1h-2.1zM150.82,244.25h2.1v2.1h-2.1zM151.16,243.35h2.1v2.1h-2.1zM151.73,249.53h2.1v2.1h-2.1zM152.45,242.80h2.1v2.1h-2.1zM152.95,254.61h2.1v2.1h-2.1zM153.29,245.81h2.1v2.1h-2.1zM153.78,256.64h2.1v2.1h-2.1zM154.06,255.47h2.1v2.1h-2.1zM154.39,246.21h2.1v2.1h-2.1zM154.67,248.81h2.1v2.1h-2.1zM155.20,251.41h2.1v2.1h-2.1zM155.78,247.82h2.1v2.1h-2.1zM156.16,248.36h2.1v2.1h-2.1zM156.78,257.23h2.1v2.1h-2.1zM157.18,250.67h2.1v2.1h-2.1zM157.56,254.70h2.1v2.1h-2.1zM157.85,245.88h2.1v2.1h-2.1zM158.26,248.19h2.1v2.1h-2.1zM158.83,254.64h2.1v2.1h-2.1zM159.30,253.60h2.1v2.1h-2.1zM159.82,255.15h2.1v2.1h-2.1zM160.42,246.95h2.1v2.1h-2.1zM160.92,246.87h2.1v2.1h-2.1zM161.15,264.80h2.1v2.1h-2.1zM161.75,235.30h2.1v2.1h-2.1zM162.45,249.00h2.1v2.1h-2.1zM163.45,257.00h2.1v2.1h-2.1zM164.95,252.00h2.1v2.1h-2.1zM166.95,264.00h2.1v2.1h-2.1zM168.45,251.00h2.1v2.1h-2.1zM169.95,259.01h2.1v2.1h-2.1zM171.66,258.63h2.1v2.1h-2.1zM172.48,253.03h2.1v2.1h-2.1zM173.43,261.98h2.1v2.1h-2.1zM174.36,251.42h2.1v2.1h-2.1zM175.51,248.85h2.1v2.1h-2.1zM177.19,256.91h2.1v2.1h-2.1zM178.14,254.98h2.1v2.1h-2.1zM179.00,256.55h2.1v2.1h-2.1zM180.02,248.54h2.1v2.1h-2.1zM180.92,255.77h2.1v2.1h-2.1zM182.36,252.55h2.1v2.1h-2.1zM183.81,252.93h2.1v2.1h-2.1zM184.73,252.41h2.1v2.1h-2.1zM185.92,260.78h2.1v2.1h-2.1zM186.82,249.21h2.1v2.1h-2.1zM188.18,261.49h2.1v2.1h-2.1zM189.91,257.80h2.1v2.1h-2.1zM190.76,259.29h2.1v2.1h-2.1zM192.25,250.02h2.1v2.1h-2.1zM193.51,248.69h2.1v2.1h-2.1zM193.95,267.70h2.1v2.1h-2.1zM195.13,258.06h2.1v2.1h-2.1zM196.74,258.65h2.1v2.1h-2.1zM197.80,259.06h2.1v2.1h-2.1zM198.84,249.93h2.1v2.1h-2.1zM200.03,254.97h2.1v2.1h-2.1zM201.10,256.48h2.1v2.1h-2.1zM202.51,251.36h2.1v2.1h-2.1zM203.94,253.00h2.1v2.1h-2.1zM205.85,245.90h2.1v2.1h-2.1zM206.45,251.07h2.1v2.1h-2.1zM207.44,252.81h2.1v2.1h-2.1zM208.28,256.43h2.1v2.1h-2.1zM209.09,250.61h2.1v2.1h-2.1zM210.19,248.35h2.1v2.1h-2.1zM210.88,254.69h2.1v2.1h-2.1zM211.38,249.17h2.1v2.1h-2.1zM212.37,257.97h2.1v2.1h-2.1zM213.26,259.62h2.1v2.1h-2.1zM214.22,251.18h2.1v2.1h-2.1zM215.12,251.76h2.1v2.1h-2.1zM216.08,252.39h2.1v2.1h-2.1zM217.05,245.00h2.1v2.1h-2.1zM217.55,259.39h2.1v2.1h-2.1zM218.47,257.68h2.1v2.1h-2.1zM219.31,258.18h2.1v2.1h-2.1zM220.08,255.36h2.1v2.1h-2.1zM220.60,255.22h2.1v2.1h-2.1zM221.60,257.17h2.1v2.1h-2.1zM222.59,254.45h2.1v2.1h-2.1zM223.64,249.41h2.1v2.1h-2.1zM224.55,245.10h2.1v2.1h-2.1zM225.15,253.08h2.1v2.1h-2.1zM225.82,255.81h2.1v2.1h-2.1zM226.79,253.71h2.1v2.1h-2.1zM228.07,250.52h2.1v2.1h-2.1zM229.16,253.55h2.1v2.1h-2.1zM229.95,264.00h2.1v2.1h-2.1zM230.55,254.49h2.1v2.1h-2.1zM231.40,254.63h2.1v2.1h-2.1zM232.95,250.88h2.1v2.1h-2.1zM233.68,249.74h2.1v2.1h-2.1zM234.84,259.72h2.1v2.1h-2.1zM235.60,259.90h2.1v2.1h-2.1zM236.84,250.32h2.1v2.1h-2.1zM237.96,251.28h2.1v2.1h-2.1zM239.36,254.96h2.1v2.1h-2.1zM240.36,251.81h2.1v2.1h-2.1zM241.91,257.43h2.1v2.1h-2.1zM243.05,253.46h2.1v2.1h-2.1zM244.48,259.68h2.1v2.1h-2.1zM245.28,250.75h2.1v2.1h-2.1zM246.34,254.58h2.1v2.1h-2.1zM247.13,249.59h2.1v2.1h-2.1z" fill="#262884"/>
<text x="81.4" y="210.60000000000002" class="gene">IGF2</text>
<line x1="80.20" y1="207.70" x2="56.22" y2="203.85" stroke="#111" stroke-width="1.9"/>
<polygon points="50.30,202.90 57.18,201.07 56.26,206.79" fill="#111"/>
<text x="0.8" y="193.0" class="plet">C</text>
<line x1="306.3" y1="216.68" x2="511.0" y2="216.68" stroke="#f7f7f7" stroke-width="0.8"/>
<line x1="306.3" y1="235.97" x2="511.0" y2="235.97" stroke="#f7f7f7" stroke-width="0.8"/>
<line x1="306.3" y1="255.25" x2="511.0" y2="255.25" stroke="#f7f7f7" stroke-width="0.8"/>
<line x1="306.3" y1="274.53" x2="511.0" y2="274.53" stroke="#f7f7f7" stroke-width="0.8"/>
<line x1="306.3" y1="293.82" x2="511.0" y2="293.82" stroke="#f7f7f7" stroke-width="0.8"/>
<rect x="306.3" y="197.4" width="204.7" height="115.70000000000002" fill="none" stroke="#a0a0a0" stroke-width="1"/>
<text x="301.0" y="200.90" text-anchor="end" class="ax">0.9</text>
<text x="301.0" y="220.18" text-anchor="end" class="ax">0.6</text>
<text x="301.0" y="239.47" text-anchor="end" class="ax">0.3</text>
<text x="301.0" y="258.75" text-anchor="end" class="ax">0</text>
<text x="301.0" y="278.03" text-anchor="end" class="ax">-0.3</text>
<text x="301.0" y="297.32" text-anchor="end" class="ax">-0.6</text>
<text x="301.0" y="316.60" text-anchor="end" class="ax">-0.9</text>
<text x="306.30" y="326.80" text-anchor="middle" class="ax">0</text>
<text x="358.70" y="326.80" text-anchor="middle" class="ax">20</text>
<text x="411.00" y="326.80" text-anchor="middle" class="ax">40</text>
<text x="463.80" y="326.80" text-anchor="middle" class="ax">60</text>
<text x="407.30" y="344.90" text-anchor="middle" class="ax">Mb position on chromosome 17</text>
<text transform="translate(279.90,255.25) rotate(-90)" text-anchor="middle" class="yt">log<tspan font-size="6" dy="2">2</tspan><tspan dy="-2">-ratio</tspan></text>
<polyline points="306.60,253.13 307.26,255.82 307.60,249.04 308.13,259.00 308.86,252.88 309.58,259.65 310.09,257.45 310.58,250.34 311.16,249.53 311.78,258.21 312.52,253.88 312.90,259.33 313.61,260.11 314.20,256.58 314.70,250.69 315.16,257.15 315.63,256.80 316.18,253.89 316.94,250.49 318.00,241.49 318.60,250.41 319.34,254.36 319.82,250.52 320.41,253.29 320.80,248.88 321.30,255.50 321.86,259.30 322.59,259.74 323.27,254.23 323.83,253.27 324.34,248.99 325.02,251.45 325.36,254.10 326.01,253.73 326.50,256.40 326.90,248.63 327.49,254.87 328.20,253.49 328.88,248.71 329.22,255.68 329.65,249.30 330.03,253.00 330.51,255.27 331.23,252.89 331.64,255.44 331.97,253.12 332.44,253.15 332.80,255.15 333.40,257.50 334.15,252.76 334.77,253.80 335.20,259.17 335.85,259.82 337.50,258.80 339.00,251.70 341.00,261.00 343.60,256.00 345.50,254.60 348.00,253.00 349.00,259.43 349.42,247.70 349.88,252.86 350.57,253.20 351.17,257.39 351.57,256.32 351.95,250.73 352.66,256.38 353.21,251.33 353.97,251.07 354.34,250.71 354.71,258.04 355.13,260.17 355.60,251.48 356.24,251.50 356.78,248.85 357.33,247.82 357.79,259.33 358.29,251.02 358.97,258.98 359.48,252.39 360.18,257.80 360.83,249.82 361.28,257.35 361.98,259.15 362.71,252.97 363.00,257.13 364.39,254.61 365.76,253.08 366.81,254.60 368.00,255.67 369.00,258.52 369.55,252.34 370.35,252.63 371.09,248.70 371.67,254.21 372.42,258.91 372.85,255.52 373.52,249.47 374.28,254.69 375.10,249.92 375.71,251.70 376.38,255.41 376.98,251.72 377.58,252.34 378.37,253.50 378.96,250.86 379.44,259.90 379.95,258.79 380.60,260.25 381.04,259.74 381.77,254.88 382.47,256.89 383.04,255.75 383.51,247.77 384.20,253.67 384.99,250.93 385.75,260.33 386.00,258.65 386.65,250.65 387.36,252.61 387.98,250.50 388.54,258.34 389.34,255.26 390.20,256.43 391.32,252.83 392.25,249.97 392.99,251.22 393.80,249.40 394.80,224.38 395.80,233.99 396.70,225.38 397.70,249.40 398.70,219.58 399.60,224.38 400.60,230.18 402.00,228.28 403.90,235.49 405.40,226.78 407.30,229.18 409.20,226.28 411.20,234.99 413.10,224.38 414.00,217.67 414.50,236.89 415.50,229.18 417.90,235.49 418.80,226.78 421.70,234.99 423.20,227.28 424.60,222.48 426.10,222.48 427.50,229.18 428.50,242.69 430.90,235.99 433.80,230.18 434.20,239.79 436.20,234.99 437.90,240.79 439.30,227.78 441.50,230.98 443.70,233.99 444.60,226.78 447.00,222.98 448.00,232.08 449.40,236.89 450.90,232.98 452.30,238.79 453.80,234.99 455.20,227.28 456.20,240.79 457.60,233.99 458.10,247.49 459.50,229.18 461.00,232.98 462.90,223.98 463.80,228.28 467.20,228.78 468.20,257.10 469.60,253.30 473.50,247.49 474.40,255.20 476.30,250.40 477.30,258.10 478.30,250.40 480.50,254.00 483.10,258.10 484.50,254.20 485.50,252.24 486.67,252.33 487.61,257.31 488.28,249.05 488.99,257.66 490.21,256.28 491.72,251.18 493.18,251.42 494.30,255.81 495.66,251.48 496.74,249.45 497.66,258.81 499.11,254.82 500.46,258.02 501.42,258.81 502.47,250.59 503.60,254.94 504.87,255.71 505.56,255.39 507.03,255.70 508.55,254.11 509.93,250.40" fill="none" stroke="#3436a0" stroke-width="1.0" stroke-linejoin="round"/>
<path d="M305.55,252.08h2.1v2.1h-2.1zM306.21,254.77h2.1v2.1h-2.1zM306.55,247.99h2.1v2.1h-2.1zM307.08,257.95h2.1v2.1h-2.1zM307.81,251.83h2.1v2.1h-2.1zM308.53,258.60h2.1v2.1h-2.1zM309.04,256.40h2.1v2.1h-2.1zM309.53,249.29h2.1v2.1h-2.1zM310.11,248.48h2.1v2.1h-2.1zM310.73,257.16h2.1v2.1h-2.1zM311.47,252.83h2.1v2.1h-2.1zM311.85,258.28h2.1v2.1h-2.1zM312.56,259.06h2.1v2.1h-2.1zM313.15,255.53h2.1v2.1h-2.1zM313.65,249.64h2.1v2.1h-2.1zM314.11,256.10h2.1v2.1h-2.1zM314.58,255.75h2.1v2.1h-2.1zM315.13,252.84h2.1v2.1h-2.1zM315.89,249.44h2.1v2.1h-2.1zM316.95,240.44h2.1v2.1h-2.1zM317.55,249.36h2.1v2.1h-2.1zM318.29,253.31h2.1v2.1h-2.1zM318.77,249.47h2.1v2.1h-2.1zM319.36,252.24h2.1v2.1h-2.1zM319.75,247.83h2.1v2.1h-2.1zM320.25,254.45h2.1v2.1h-2.1zM320.81,258.25h2.1v2.1h-2.1zM321.54,258.69h2.1v2.1h-2.1zM322.22,253.18h2.1v2.1h-2.1zM322.78,252.22h2.1v2.1h-2.1zM323.29,247.94h2.1v2.1h-2.1zM323.97,250.40h2.1v2.1h-2.1zM324.31,253.05h2.1v2.1h-2.1zM324.96,252.68h2.1v2.1h-2.1zM325.45,255.35h2.1v2.1h-2.1zM325.85,247.58h2.1v2.1h-2.1zM326.44,253.82h2.1v2.1h-2.1zM327.15,252.44h2.1v2.1h-2.1zM327.83,247.66h2.1v2.1h-2.1zM328.17,254.63h2.1v2.1h-2.1zM328.60,248.25h2.1v2.1h-2.1zM328.98,251.95h2.1v2.1h-2.1zM329.46,254.22h2.1v2.1h-2.1zM330.18,251.84h2.1v2.1h-2.1zM330.59,254.39h2.1v2.1h-2.1zM330.92,252.07h2.1v2.1h-2.1zM331.39,252.10h2.1v2.1h-2.1zM331.75,254.10h2.1v2.1h-2.1zM332.35,256.45h2.1v2.1h-2.1zM333.10,251.71h2.1v2.1h-2.1zM333.72,252.75h2.1v2.1h-2.1zM334.15,258.12h2.1v2.1h-2.1zM334.80,258.77h2.1v2.1h-2.1zM336.45,257.75h2.1v2.1h-2.1zM337.95,250.65h2.1v2.1h-2.1zM339.95,259.95h2.1v2.1h-2.1zM342.55,254.95h2.1v2.1h-2.1zM344.45,253.55h2.1v2.1h-2.1zM346.95,251.95h2.1v2.1h-2.1zM347.95,258.38h2.1v2.1h-2.1zM348.37,246.65h2.1v2.1h-2.1zM348.83,251.81h2.1v2.1h-2.1zM349.52,252.15h2.1v2.1h-2.1zM350.12,256.34h2.1v2.1h-2.1zM350.52,255.27h2.1v2.1h-2.1zM350.90,249.68h2.1v2.1h-2.1zM351.61,255.33h2.1v2.1h-2.1zM352.16,250.28h2.1v2.1h-2.1zM352.92,250.02h2.1v2.1h-2.1zM353.29,249.66h2.1v2.1h-2.1zM353.66,256.99h2.1v2.1h-2.1zM354.08,259.12h2.1v2.1h-2.1zM354.55,250.43h2.1v2.1h-2.1zM355.19,250.45h2.1v2.1h-2.1zM355.73,247.80h2.1v2.1h-2.1zM356.28,246.77h2.1v2.1h-2.1zM356.74,258.28h2.1v2.1h-2.1zM357.24,249.97h2.1v2.1h-2.1zM357.92,257.93h2.1v2.1h-2.1zM358.43,251.34h2.1v2.1h-2.1zM359.13,256.75h2.1v2.1h-2.1zM359.78,248.77h2.1v2.1h-2.1zM360.23,256.30h2.1v2.1h-2.1zM360.93,258.10h2.1v2.1h-2.1zM361.66,251.92h2.1v2.1h-2.1zM361.95,256.08h2.1v2.1h-2.1zM363.34,253.56h2.1v2.1h-2.1zM364.71,252.03h2.1v2.1h-2.1zM365.76,253.55h2.1v2.1h-2.1zM366.95,254.62h2.1v2.1h-2.1zM367.95,257.47h2.1v2.1h-2.1zM368.50,251.29h2.1v2.1h-2.1zM369.30,251.58h2.1v2.1h-2.1zM370.04,247.65h2.1v2.1h-2.1zM370.62,253.16h2.1v2.1h-2.1zM371.37,257.86h2.1v2.1h-2.1zM371.80,254.47h2.1v2.1h-2.1zM372.47,248.42h2.1v2.1h-2.1zM373.23,253.64h2.1v2.1h-2.1zM374.05,248.87h2.1v2.1h-2.1zM374.66,250.65h2.1v2.1h-2.1zM375.33,254.36h2.1v2.1h-2.1zM375.93,250.67h2.1v2.1h-2.1zM376.53,251.29h2.1v2.1h-2.1zM377.32,252.45h2.1v2.1h-2.1zM377.91,249.81h2.1v2.1h-2.1zM378.39,258.85h2.1v2.1h-2.1zM378.90,257.74h2.1v2.1h-2.1zM379.55,259.20h2.1v2.1h-2.1zM379.99,258.69h2.1v2.1h-2.1zM380.72,253.83h2.1v2.1h-2.1zM381.42,255.84h2.1v2.1h-2.1zM381.99,254.70h2.1v2.1h-2.1zM382.46,246.72h2.1v2.1h-2.1zM383.15,252.62h2.1v2.1h-2.1zM383.94,249.88h2.1v2.1h-2.1zM384.70,259.28h2.1v2.1h-2.1zM384.95,257.60h2.1v2.1h-2.1zM385.60,249.60h2.1v2.1h-2.1zM386.31,251.56h2.1v2.1h-2.1zM386.93,249.45h2.1v2.1h-2.1zM387.49,257.29h2.1v2.1h-2.1zM388.29,254.21h2.1v2.1h-2.1zM389.15,255.38h2.1v2.1h-2.1zM390.27,251.78h2.1v2.1h-2.1zM391.20,248.92h2.1v2.1h-2.1zM391.94,250.17h2.1v2.1h-2.1zM392.75,248.35h2.1v2.1h-2.1zM393.75,223.33h2.1v2.1h-2.1zM394.75,232.94h2.1v2.1h-2.1zM395.65,224.33h2.1v2.1h-2.1zM396.65,248.35h2.1v2.1h-2.1zM397.65,218.53h2.1v2.1h-2.1zM398.55,223.33h2.1v2.1h-2.1zM399.55,229.13h2.1v2.1h-2.1zM400.95,227.23h2.1v2.1h-2.1zM402.85,234.44h2.1v2.1h-2.1zM404.35,225.73h2.1v2.1h-2.1zM406.25,228.13h2.1v2.1h-2.1zM408.15,225.23h2.1v2.1h-2.1zM410.15,233.94h2.1v2.1h-2.1zM412.05,223.33h2.1v2.1h-2.1zM412.95,216.62h2.1v2.1h-2.1zM413.45,235.84h2.1v2.1h-2.1zM414.45,228.13h2.1v2.1h-2.1zM416.85,234.44h2.1v2.1h-2.1zM417.75,225.73h2.1v2.1h-2.1zM420.65,233.94h2.1v2.1h-2.1zM422.15,226.23h2.1v2.1h-2.1zM423.55,221.43h2.1v2.1h-2.1zM425.05,221.43h2.1v2.1h-2.1zM426.45,228.13h2.1v2.1h-2.1zM427.45,241.64h2.1v2.1h-2.1zM429.85,234.94h2.1v2.1h-2.1zM432.75,229.13h2.1v2.1h-2.1zM433.15,238.74h2.1v2.1h-2.1zM435.15,233.94h2.1v2.1h-2.1zM436.85,239.74h2.1v2.1h-2.1zM438.25,226.73h2.1v2.1h-2.1zM440.45,229.93h2.1v2.1h-2.1zM442.65,232.94h2.1v2.1h-2.1zM443.55,225.73h2.1v2.1h-2.1zM445.95,221.93h2.1v2.1h-2.1zM446.95,231.03h2.1v2.1h-2.1zM448.35,235.84h2.1v2.1h-2.1zM449.85,231.93h2.1v2.1h-2.1zM451.25,237.74h2.1v2.1h-2.1zM452.75,233.94h2.1v2.1h-2.1zM454.15,226.23h2.1v2.1h-2.1zM455.15,239.74h2.1v2.1h-2.1zM456.55,232.94h2.1v2.1h-2.1zM457.05,246.44h2.1v2.1h-2.1zM458.45,228.13h2.1v2.1h-2.1zM459.95,231.93h2.1v2.1h-2.1zM461.85,222.93h2.1v2.1h-2.1zM462.75,227.23h2.1v2.1h-2.1zM466.15,227.73h2.1v2.1h-2.1zM467.15,256.05h2.1v2.1h-2.1zM468.55,252.25h2.1v2.1h-2.1zM472.45,246.44h2.1v2.1h-2.1zM473.35,254.15h2.1v2.1h-2.1zM475.25,249.35h2.1v2.1h-2.1zM476.25,257.05h2.1v2.1h-2.1zM477.25,249.35h2.1v2.1h-2.1zM479.45,252.95h2.1v2.1h-2.1zM482.05,257.05h2.1v2.1h-2.1zM483.45,253.15h2.1v2.1h-2.1zM484.45,251.19h2.1v2.1h-2.1zM485.62,251.28h2.1v2.1h-2.1zM486.56,256.26h2.1v2.1h-2.1zM487.23,248.00h2.1v2.1h-2.1zM487.94,256.61h2.1v2.1h-2.1zM489.16,255.23h2.1v2.1h-2.1zM490.67,250.13h2.1v2.1h-2.1zM492.13,250.37h2.1v2.1h-2.1zM493.25,254.76h2.1v2.1h-2.1zM494.61,250.43h2.1v2.1h-2.1zM495.69,248.40h2.1v2.1h-2.1zM496.61,257.76h2.1v2.1h-2.1zM498.06,253.77h2.1v2.1h-2.1zM499.41,256.97h2.1v2.1h-2.1zM500.37,257.76h2.1v2.1h-2.1zM501.42,249.54h2.1v2.1h-2.1zM502.55,253.89h2.1v2.1h-2.1zM503.82,254.66h2.1v2.1h-2.1zM504.51,254.34h2.1v2.1h-2.1zM505.98,254.65h2.1v2.1h-2.1zM507.50,253.06h2.1v2.1h-2.1zM508.88,249.35h2.1v2.1h-2.1z" fill="#262884"/>
<text x="345" y="212.70000000000002" class="gene">MSI2</text>
<line x1="368.80" y1="209.40" x2="391.83" y2="217.43" stroke="#111" stroke-width="1.9"/>
<polygon points="397.50,219.40 390.41,220.00 392.32,214.52" fill="#111"/>
<text x="266.3" y="193.0" class="plet">D</text>
<defs>
<linearGradient id="gE" x1="0" y1="0" x2="0" y2="1"><stop offset="0" stop-color="#ede7e4"/><stop offset="0.2" stop-color="#f3efed"/><stop offset="0.45" stop-color="#f8f6f5"/><stop offset="1" stop-color="#fbfafa"/></linearGradient>
<linearGradient id="gF" x1="0" y1="0" x2="0" y2="1"><stop offset="0" stop-color="#ede8e6"/><stop offset="0.15" stop-color="#f2eeec"/><stop offset="0.42" stop-color="#f9f7f6"/><stop offset="0.65" stop-color="#fefdfd"/><stop offset="0.85" stop-color="#fff"/></linearGradient>
<linearGradient id="gV" x1="0" y1="0" x2="0" y2="1"><stop offset="0" stop-color="#fff"/><stop offset="0.55" stop-color="#fff"/><stop offset="0.8" stop-color="#000"/></linearGradient>
<mask id="mV" maskContentUnits="objectBoundingBox"><rect width="1" height="1" fill="url(#gV)"/></mask>
<linearGradient id="gR" x1="0" y1="0" x2="1" y2="0"><stop offset="0" stop-color="#fff" stop-opacity="0"/><stop offset="1" stop-color="#e4dfdc" stop-opacity="1"/></linearGradient>
<radialGradient id="gN" cx="0.5" cy="0.5" r="0.5"><stop offset="0" stop-color="#f6f4f3"/><stop offset="0.8" stop-color="#f2efee"/><stop offset="1" stop-color="#ebe7e5"/></radialGradient>
<linearGradient id="gNt" gradientUnits="userSpaceOnUse" x1="0" y1="535" x2="0" y2="610"><stop offset="0" stop-color="#d8d3d0" stop-opacity="0.75"/><stop offset="1" stop-color="#d8d3d0" stop-opacity="0"/></linearGradient>
<clipPath id="cE"><rect x="12" y="382.5" width="237.7" height="284"/></clipPath>
</defs>
<text x="0.9" y="377.9" class="plet" style="font-size:17.4px">E</text>
<rect x="12" y="382.3" width="237.7" height="44" fill="#ece4e1"/>
<rect x="12" y="449" width="237.7" height="217" fill="url(#gE)"/>
<rect x="224.7" y="449" width="25" height="217" fill="url(#gR)" opacity="0.6"/>
<g clip-path="url(#cE)"><ellipse cx="172.6" cy="644.3" rx="161" ry="109" fill="url(#gN)"/><ellipse cx="172.6" cy="644.3" rx="161" ry="109" fill="url(#gNt)" stroke="#4a4a4a" stroke-width="0.8"/></g>
<clipPath id="mcE"><rect x="12" y="421.6" width="237.7" height="31.399999999999977"/></clipPath>
<g clip-path="url(#mcE)">
<rect x="12" y="425.6" width="237.7" height="23.399999999999977" fill="#fcece0"/>
<path d="M13.45,427.90000000000003 c-1.3,2.5 0.6,5 -0.3,9.3 M15.25,427.90000000000003 c1.3,2.5 -0.6,5 0.3,9.3 M13.45,446.7 c-1.3,-2.5 0.6,-5 -0.3,-9.3 M15.25,446.7 c1.3,-2.5 -0.6,-5 0.3,-9.3 M18.37,427.90000000000003 c-1.3,2.5 0.6,5 -0.3,9.3 M20.17,427.90000000000003 c1.3,2.5 -0.6,5 0.3,9.3 M18.37,446.7 c-1.3,-2.5 0.6,-5 -0.3,-9.3 M20.17,446.7 c1.3,-2.5 -0.6,-5 0.3,-9.3 M23.29,427.90000000000003 c-1.3,2.5 0.6,5 -0.3,9.3 M25.09,427.90000000000003 c1.3,2.5 -0.6,5 0.3,9.3 M23.29,446.7 c-1.3,-2.5 0.6,-5 -0.3,-9.3 M25.09,446.7 c1.3,-2.5 -0.6,-5 0.3,-9.3 M28.21,427.90000000000003 c-1.3,2.5 0.6,5 -0.3,9.3 M30.01,427.90000000000003 c1.3,2.5 -0.6,5 0.3,9.3 M28.21,446.7 c-1.3,-2.5 0.6,-5 -0.3,-9.3 M30.01,446.7 c1.3,-2.5 -0.6,-5 0.3,-9.3 M33.13,427.90000000000003 c-1.3,2.5 0.6,5 -0.3,9.3 M34.93,427.90000000000003 c1.3,2.5 -0.6,5 0.3,9.3 M33.13,446.7 c-1.3,-2.5 0.6,-5 -0.3,-9.3 M34.93,446.7 c1.3,-2.5 -0.6,-5 0.3,-9.3 M38.05,427.90000000000003 c-1.3,2.5 0.6,5 -0.3,9.3 M39.85,427.90000000000003 c1.3,2.5 -0.6,5 0.3,9.3 M38.05,446.7 c-1.3,-2.5 0.6,-5 -0.3,-9.3 M39.85,446.7 c1.3,-2.5 -0.6,-5 0.3,-9.3 M42.98,427.90000000000003 c-1.3,2.5 0.6,5 -0.3,9.3 M44.78,427.90000000000003 c1.3,2.5 -0.6,5 0.3,9.3 M42.98,446.7 c-1.3,-2.5 0.6,-5 -0.3,-9.3 M44.78,446.7 c1.3,-2.5 -0.6,-5 0.3,-9.3 M47.90,427.90000000000003 c-1.3,2.5 0.6,5 -0.3,9.3 M49.70,427.90000000000003 c1.3,2.5 -0.6,5 0.3,9.3 M47.90,446.7 c-1.3,-2.5 0.6,-5 -0.3,-9.3 M49.70,446.7 c1.3,-2.5 -0.6,-5 0.3,-9.3 M52.82,427.90000000000003 c-1.3,2.5 0.6,5 -0.3,9.3 M54.62,427.90000000000003 c1.3,2.5 -0.6,5 0.3,9.3 M52.82,446.7 c-1.3,-2.5 0.6,-5 -0.3,-9.3 M54.62,446.7 c1.3,-2.5 -0.6,-5 0.3,-9.3 M57.74,427.90000000000003 c-1.3,2.5 0.6,5 -0.3,9.3 M59.54,427.90000000000003 c1.3,2.5 -0.6,5 0.3,9.3 M57.74,446.7 c-1.3,-2.5 0.6,-5 -0.3,-9.3 M59.54,446.7 c1.3,-2.5 -0.6,-5 0.3,-9.3 M62.66,427.90000000000003 c-1.3,2.5 0.6,5 -0.3,9.3 M64.46,427.90000000000003 c1.3,2.5 -0.6,5 0.3,9.3 M62.66,446.7 c-1.3,-2.5 0.6,-5 -0.3,-9.3 M64.46,446.7 c1.3,-2.5 -0.6,-5 0.3,-9.3 M67.58,427.90000000000003 c-1.3,2.5 0.6,5 -0.3,9.3 M69.38,427.90000000000003 c1.3,2.5 -0.6,5 0.3,9.3 M67.58,446.7 c-1.3,-2.5 0.6,-5 -0.3,-9.3 M69.38,446.7 c1.3,-2.5 -0.6,-5 0.3,-9.3 M72.50,427.90000000000003 c-1.3,2.5 0.6,5 -0.3,9.3 M74.30,427.90000000000003 c1.3,2.5 -0.6,5 0.3,9.3 M72.50,446.7 c-1.3,-2.5 0.6,-5 -0.3,-9.3 M74.30,446.7 c1.3,-2.5 -0.6,-5 0.3,-9.3 M77.42,427.90000000000003 c-1.3,2.5 0.6,5 -0.3,9.3 M79.22,427.90000000000003 c1.3,2.5 -0.6,5 0.3,9.3 M77.42,446.7 c-1.3,-2.5 0.6,-5 -0.3,-9.3 M79.22,446.7 c1.3,-2.5 -0.6,-5 0.3,-9.3 M82.34,427.90000000000003 c-1.3,2.5 0.6,5 -0.3,9.3 M84.14,427.90000000000003 c1.3,2.5 -0.6,5 0.3,9.3 M82.34,446.7 c-1.3,-2.5 0.6,-5 -0.3,-9.3 M84.14,446.7 c1.3,-2.5 -0.6,-5 0.3,-9.3 M87.26,427.90000000000003 c-1.3,2.5 0.6,5 -0.3,9.3 M89.06,427.90000000000003 c1.3,2.5 -0.6,5 0.3,9.3 M87.26,446.7 c-1.3,-2.5 0.6,-5 -0.3,-9.3 M89.06,446.7 c1.3,-2.5 -0.6,-5 0.3,-9.3 M92.19,427.90000000000003 c-1.3,2.5 0.6,5 -0.3,9.3 M93.99,427.90000000000003 c1.3,2.5 -0.6,5 0.3,9.3 M92.19,446.7 c-1.3,-2.5 0.6,-5 -0.3,-9.3 M93.99,446.7 c1.3,-2.5 -0.6,-5 0.3,-9.3 M97.11,427.90000000000003 c-1.3,2.5 0.6,5 -0.3,9.3 M98.91,427.90000000000003 c1.3,2.5 -0.6,5 0.3,9.3 M97.11,446.7 c-1.3,-2.5 0.6,-5 -0.3,-9.3 M98.91,446.7 c1.3,-2.5 -0.6,-5 0.3,-9.3 M102.03,427.90000000000003 c-1.3,2.5 0.6,5 -0.3,9.3 M103.83,427.90000000000003 c1.3,2.5 -0.6,5 0.3,9.3 M102.03,446.7 c-1.3,-2.5 0.6,-5 -0.3,-9.3 M103.83,446.7 c1.3,-2.5 -0.6,-5 0.3,-9.3 M106.95,427.90000000000003 c-1.3,2.5 0.6,5 -0.3,9.3 M108.75,427.90000000000003 c1.3,2.5 -0.6,5 0.3,9.3 M106.95,446.7 c-1.3,-2.5 0.6,-5 -0.3,-9.3 M108.75,446.7 c1.3,-2.5 -0.6,-5 0.3,-9.3 M111.87,427.90000000000003 c-1.3,2.5 0.6,5 -0.3,9.3 M113.67,427.90000000000003 c1.3,2.5 -0.6,5 0.3,9.3 M111.87,446.7 c-1.3,-2.5 0.6,-5 -0.3,-9.3 M113.67,446.7 c1.3,-2.5 -0.6,-5 0.3,-9.3 M116.79,427.90000000000003 c-1.3,2.5 0.6,5 -0.3,9.3 M118.59,427.90000000000003 c1.3,2.5 -0.6,5 0.3,9.3 M116.79,446.7 c-1.3,-2.5 0.6,-5 -0.3,-9.3 M118.59,446.7 c1.3,-2.5 -0.6,-5 0.3,-9.3 M121.71,427.90000000000003 c-1.3,2.5 0.6,5 -0.3,9.3 M123.51,427.90000000000003 c1.3,2.5 -0.6,5 0.3,9.3 M121.71,446.7 c-1.3,-2.5 0.6,-5 -0.3,-9.3 M123.51,446.7 c1.3,-2.5 -0.6,-5 0.3,-9.3 M126.63,427.90000000000003 c-1.3,2.5 0.6,5 -0.3,9.3 M128.43,427.90000000000003 c1.3,2.5 -0.6,5 0.3,9.3 M126.63,446.7 c-1.3,-2.5 0.6,-5 -0.3,-9.3 M128.43,446.7 c1.3,-2.5 -0.6,-5 0.3,-9.3 M131.55,427.90000000000003 c-1.3,2.5 0.6,5 -0.3,9.3 M133.35,427.90000000000003 c1.3,2.5 -0.6,5 0.3,9.3 M131.55,446.7 c-1.3,-2.5 0.6,-5 -0.3,-9.3 M133.35,446.7 c1.3,-2.5 -0.6,-5 0.3,-9.3 M136.47,427.90000000000003 c-1.3,2.5 0.6,5 -0.3,9.3 M138.28,427.90000000000003 c1.3,2.5 -0.6,5 0.3,9.3 M136.47,446.7 c-1.3,-2.5 0.6,-5 -0.3,-9.3 M138.28,446.7 c1.3,-2.5 -0.6,-5 0.3,-9.3 M141.40,427.90000000000003 c-1.3,2.5 0.6,5 -0.3,9.3 M143.20,427.90000000000003 c1.3,2.5 -0.6,5 0.3,9.3 M141.40,446.7 c-1.3,-2.5 0.6,-5 -0.3,-9.3 M143.20,446.7 c1.3,-2.5 -0.6,-5 0.3,-9.3 M146.32,427.90000000000003 c-1.3,2.5 0.6,5 -0.3,9.3 M148.12,427.90000000000003 c1.3,2.5 -0.6,5 0.3,9.3 M146.32,446.7 c-1.3,-2.5 0.6,-5 -0.3,-9.3 M148.12,446.7 c1.3,-2.5 -0.6,-5 0.3,-9.3 M151.24,427.90000000000003 c-1.3,2.5 0.6,5 -0.3,9.3 M153.04,427.90000000000003 c1.3,2.5 -0.6,5 0.3,9.3 M151.24,446.7 c-1.3,-2.5 0.6,-5 -0.3,-9.3 M153.04,446.7 c1.3,-2.5 -0.6,-5 0.3,-9.3 M156.16,427.90000000000003 c-1.3,2.5 0.6,5 -0.3,9.3 M157.96,427.90000000000003 c1.3,2.5 -0.6,5 0.3,9.3 M156.16,446.7 c-1.3,-2.5 0.6,-5 -0.3,-9.3 M157.96,446.7 c1.3,-2.5 -0.6,-5 0.3,-9.3 M161.08,427.90000000000003 c-1.3,2.5 0.6,5 -0.3,9.3 M162.88,427.90000000000003 c1.3,2.5 -0.6,5 0.3,9.3 M161.08,446.7 c-1.3,-2.5 0.6,-5 -0.3,-9.3 M162.88,446.7 c1.3,-2.5 -0.6,-5 0.3,-9.3 M166.00,427.90000000000003 c-1.3,2.5 0.6,5 -0.3,9.3 M167.80,427.90000000000003 c1.3,2.5 -0.6,5 0.3,9.3 M166.00,446.7 c-1.3,-2.5 0.6,-5 -0.3,-9.3 M167.80,446.7 c1.3,-2.5 -0.6,-5 0.3,-9.3 M170.92,427.90000000000003 c-1.3,2.5 0.6,5 -0.3,9.3 M172.72,427.90000000000003 c1.3,2.5 -0.6,5 0.3,9.3 M170.92,446.7 c-1.3,-2.5 0.6,-5 -0.3,-9.3 M172.72,446.7 c1.3,-2.5 -0.6,-5 0.3,-9.3 M175.84,427.90000000000003 c-1.3,2.5 0.6,5 -0.3,9.3 M177.64,427.90000000000003 c1.3,2.5 -0.6,5 0.3,9.3 M175.84,446.7 c-1.3,-2.5 0.6,-5 -0.3,-9.3 M177.64,446.7 c1.3,-2.5 -0.6,-5 0.3,-9.3 M180.76,427.90000000000003 c-1.3,2.5 0.6,5 -0.3,9.3 M182.56,427.90000000000003 c1.3,2.5 -0.6,5 0.3,9.3 M180.76,446.7 c-1.3,-2.5 0.6,-5 -0.3,-9.3 M182.56,446.7 c1.3,-2.5 -0.6,-5 0.3,-9.3 M185.69,427.90000000000003 c-1.3,2.5 0.6,5 -0.3,9.3 M187.49,427.90000000000003 c1.3,2.5 -0.6,5 0.3,9.3 M185.69,446.7 c-1.3,-2.5 0.6,-5 -0.3,-9.3 M187.49,446.7 c1.3,-2.5 -0.6,-5 0.3,-9.3 M190.61,427.90000000000003 c-1.3,2.5 0.6,5 -0.3,9.3 M192.41,427.90000000000003 c1.3,2.5 -0.6,5 0.3,9.3 M190.61,446.7 c-1.3,-2.5 0.6,-5 -0.3,-9.3 M192.41,446.7 c1.3,-2.5 -0.6,-5 0.3,-9.3 M195.53,427.90000000000003 c-1.3,2.5 0.6,5 -0.3,9.3 M197.33,427.90000000000003 c1.3,2.5 -0.6,5 0.3,9.3 M195.53,446.7 c-1.3,-2.5 0.6,-5 -0.3,-9.3 M197.33,446.7 c1.3,-2.5 -0.6,-5 0.3,-9.3 M200.45,427.90000000000003 c-1.3,2.5 0.6,5 -0.3,9.3 M202.25,427.90000000000003 c1.3,2.5 -0.6,5 0.3,9.3 M200.45,446.7 c-1.3,-2.5 0.6,-5 -0.3,-9.3 M202.25,446.7 c1.3,-2.5 -0.6,-5 0.3,-9.3 M205.37,427.90000000000003 c-1.3,2.5 0.6,5 -0.3,9.3 M207.17,427.90000000000003 c1.3,2.5 -0.6,5 0.3,9.3 M205.37,446.7 c-1.3,-2.5 0.6,-5 -0.3,-9.3 M207.17,446.7 c1.3,-2.5 -0.6,-5 0.3,-9.3 M210.29,427.90000000000003 c-1.3,2.5 0.6,5 -0.3,9.3 M212.09,427.90000000000003 c1.3,2.5 -0.6,5 0.3,9.3 M210.29,446.7 c-1.3,-2.5 0.6,-5 -0.3,-9.3 M212.09,446.7 c1.3,-2.5 -0.6,-5 0.3,-9.3 M215.21,427.90000000000003 c-1.3,2.5 0.6,5 -0.3,9.3 M217.01,427.90000000000003 c1.3,2.5 -0.6,5 0.3,9.3 M215.21,446.7 c-1.3,-2.5 0.6,-5 -0.3,-9.3 M217.01,446.7 c1.3,-2.5 -0.6,-5 0.3,-9.3 M220.13,427.90000000000003 c-1.3,2.5 0.6,5 -0.3,9.3 M221.93,427.90000000000003 c1.3,2.5 -0.6,5 0.3,9.3 M220.13,446.7 c-1.3,-2.5 0.6,-5 -0.3,-9.3 M221.93,446.7 c1.3,-2.5 -0.6,-5 0.3,-9.3 M225.05,427.90000000000003 c-1.3,2.5 0.6,5 -0.3,9.3 M226.85,427.90000000000003 c1.3,2.5 -0.6,5 0.3,9.3 M225.05,446.7 c-1.3,-2.5 0.6,-5 -0.3,-9.3 M226.85,446.7 c1.3,-2.5 -0.6,-5 0.3,-9.3 M229.97,427.90000000000003 c-1.3,2.5 0.6,5 -0.3,9.3 M231.77,427.90000000000003 c1.3,2.5 -0.6,5 0.3,9.3 M229.97,446.7 c-1.3,-2.5 0.6,-5 -0.3,-9.3 M231.77,446.7 c1.3,-2.5 -0.6,-5 0.3,-9.3 M234.90,427.90000000000003 c-1.3,2.5 0.6,5 -0.3,9.3 M236.70,427.90000000000003 c1.3,2.5 -0.6,5 0.3,9.3 M234.90,446.7 c-1.3,-2.5 0.6,-5 -0.3,-9.3 M236.70,446.7 c1.3,-2.5 -0.6,-5 0.3,-9.3 M239.82,427.90000000000003 c-1.3,2.5 0.6,5 -0.3,9.3 M241.62,427.90000000000003 c1.3,2.5 -0.6,5 0.3,9.3 M239.82,446.7 c-1.3,-2.5 0.6,-5 -0.3,-9.3 M241.62,446.7 c1.3,-2.5 -0.6,-5 0.3,-9.3 M244.74,427.90000000000003 c-1.3,2.5 0.6,5 -0.3,9.3 M246.54,427.90000000000003 c1.3,2.5 -0.6,5 0.3,9.3 M244.74,446.7 c-1.3,-2.5 0.6,-5 -0.3,-9.3 M246.54,446.7 c1.3,-2.5 -0.6,-5 0.3,-9.3 M249.66,427.90000000000003 c-1.3,2.5 0.6,5 -0.3,9.3 M251.46,427.90000000000003 c1.3,2.5 -0.6,5 0.3,9.3 M249.66,446.7 c-1.3,-2.5 0.6,-5 -0.3,-9.3 M251.46,446.7 c1.3,-2.5 -0.6,-5 0.3,-9.3 " fill="none" stroke="#f4bd8e" stroke-width="1.0"/>
<path d="M12.20,425.6 a2.15,2.15 0 1,0 4.3,0 a2.15,2.15 0 1,0 -4.3,0 M17.12,425.6 a2.15,2.15 0 1,0 4.3,0 a2.15,2.15 0 1,0 -4.3,0 M22.04,425.6 a2.15,2.15 0 1,0 4.3,0 a2.15,2.15 0 1,0 -4.3,0 M26.96,425.6 a2.15,2.15 0 1,0 4.3,0 a2.15,2.15 0 1,0 -4.3,0 M31.88,425.6 a2.15,2.15 0 1,0 4.3,0 a2.15,2.15 0 1,0 -4.3,0 M36.80,425.6 a2.15,2.15 0 1,0 4.3,0 a2.15,2.15 0 1,0 -4.3,0 M41.73,425.6 a2.15,2.15 0 1,0 4.3,0 a2.15,2.15 0 1,0 -4.3,0 M46.65,425.6 a2.15,2.15 0 1,0 4.3,0 a2.15,2.15 0 1,0 -4.3,0 M51.57,425.6 a2.15,2.15 0 1,0 4.3,0 a2.15,2.15 0 1,0 -4.3,0 M56.49,425.6 a2.15,2.15 0 1,0 4.3,0 a2.15,2.15 0 1,0 -4.3,0 M61.41,425.6 a2.15,2.15 0 1,0 4.3,0 a2.15,2.15 0 1,0 -4.3,0 M66.33,425.6 a2.15,2.15 0 1,0 4.3,0 a2.15,2.15 0 1,0 -4.3,0 M71.25,425.6 a2.15,2.15 0 1,0 4.3,0 a2.15,2.15 0 1,0 -4.3,0 M76.17,425.6 a2.15,2.15 0 1,0 4.3,0 a2.15,2.15 0 1,0 -4.3,0 M81.09,425.6 a2.15,2.15 0 1,0 4.3,0 a2.15,2.15 0 1,0 -4.3,0 M86.01,425.6 a2.15,2.15 0 1,0 4.3,0 a2.15,2.15 0 1,0 -4.3,0 M90.94,425.6 a2.15,2.15 0 1,0 4.3,0 a2.15,2.15 0 1,0 -4.3,0 M95.86,425.6 a2.15,2.15 0 1,0 4.3,0 a2.15,2.15 0 1,0 -4.3,0 M100.78,425.6 a2.15,2.15 0 1,0 4.3,0 a2.15,2.15 0 1,0 -4.3,0 M105.70,425.6 a2.15,2.15 0 1,0 4.3,0 a2.15,2.15 0 1,0 -4.3,0 M110.62,425.6 a2.15,2.15 0 1,0 4.3,0 a2.15,2.15 0 1,0 -4.3,0 M115.54,425.6 a2.15,2.15 0 1,0 4.3,0 a2.15,2.15 0 1,0 -4.3,0 M120.46,425.6 a2.15,2.15 0 1,0 4.3,0 a2.15,2.15 0 1,0 -4.3,0 M125.38,425.6 a2.15,2.15 0 1,0 4.3,0 a2.15,2.15 0 1,0 -4.3,0 M130.30,425.6 a2.15,2.15 0 1,0 4.3,0 a2.15,2.15 0 1,0 -4.3,0 M135.22,425.6 a2.15,2.15 0 1,0 4.3,0 a2.15,2.15 0 1,0 -4.3,0 M140.15,425.6 a2.15,2.15 0 1,0 4.3,0 a2.15,2.15 0 1,0 -4.3,0 M145.07,425.6 a2.15,2.15 0 1,0 4.3,0 a2.15,2.15 0 1,0 -4.3,0 M149.99,425.6 a2.15,2.15 0 1,0 4.3,0 a2.15,2.15 0 1,0 -4.3,0 M154.91,425.6 a2.15,2.15 0 1,0 4.3,0 a2.15,2.15 0 1,0 -4.3,0 M159.83,425.6 a2.15,2.15 0 1,0 4.3,0 a2.15,2.15 0 1,0 -4.3,0 M164.75,425.6 a2.15,2.15 0 1,0 4.3,0 a2.15,2.15 0 1,0 -4.3,0 M169.67,425.6 a2.15,2.15 0 1,0 4.3,0 a2.15,2.15 0 1,0 -4.3,0 M174.59,425.6 a2.15,2.15 0 1,0 4.3,0 a2.15,2.15 0 1,0 -4.3,0 M179.51,425.6 a2.15,2.15 0 1,0 4.3,0 a2.15,2.15 0 1,0 -4.3,0 M184.44,425.6 a2.15,2.15 0 1,0 4.3,0 a2.15,2.15 0 1,0 -4.3,0 M189.36,425.6 a2.15,2.15 0 1,0 4.3,0 a2.15,2.15 0 1,0 -4.3,0 M194.28,425.6 a2.15,2.15 0 1,0 4.3,0 a2.15,2.15 0 1,0 -4.3,0 M199.20,425.6 a2.15,2.15 0 1,0 4.3,0 a2.15,2.15 0 1,0 -4.3,0 M204.12,425.6 a2.15,2.15 0 1,0 4.3,0 a2.15,2.15 0 1,0 -4.3,0 M209.04,425.6 a2.15,2.15 0 1,0 4.3,0 a2.15,2.15 0 1,0 -4.3,0 M213.96,425.6 a2.15,2.15 0 1,0 4.3,0 a2.15,2.15 0 1,0 -4.3,0 M218.88,425.6 a2.15,2.15 0 1,0 4.3,0 a2.15,2.15 0 1,0 -4.3,0 M223.80,425.6 a2.15,2.15 0 1,0 4.3,0 a2.15,2.15 0 1,0 -4.3,0 M228.72,425.6 a2.15,2.15 0 1,0 4.3,0 a2.15,2.15 0 1,0 -4.3,0 M233.65,425.6 a2.15,2.15 0 1,0 4.3,0 a2.15,2.15 0 1,0 -4.3,0 M238.57,425.6 a2.15,2.15 0 1,0 4.3,0 a2.15,2.15 0 1,0 -4.3,0 M243.49,425.6 a2.15,2.15 0 1,0 4.3,0 a2.15,2.15 0 1,0 -4.3,0 M248.41,425.6 a2.15,2.15 0 1,0 4.3,0 a2.15,2.15 0 1,0 -4.3,0 " fill="#fffaf2" stroke="#38302c" stroke-width="0.95"/>
<path d="M12.20,449.0 a2.15,2.15 0 1,0 4.3,0 a2.15,2.15 0 1,0 -4.3,0 M17.12,449.0 a2.15,2.15 0 1,0 4.3,0 a2.15,2.15 0 1,0 -4.3,0 M22.04,449.0 a2.15,2.15 0 1,0 4.3,0 a2.15,2.15 0 1,0 -4.3,0 M26.96,449.0 a2.15,2.15 0 1,0 4.3,0 a2.15,2.15 0 1,0 -4.3,0 M31.88,449.0 a2.15,2.15 0 1,0 4.3,0 a2.15,2.15 0 1,0 -4.3,0 M36.80,449.0 a2.15,2.15 0 1,0 4.3,0 a2.15,2.15 0 1,0 -4.3,0 M41.73,449.0 a2.15,2.15 0 1,0 4.3,0 a2.15,2.15 0 1,0 -4.3,0 M46.65,449.0 a2.15,2.15 0 1,0 4.3,0 a2.15,2.15 0 1,0 -4.3,0 M51.57,449.0 a2.15,2.15 0 1,0 4.3,0 a2.15,2.15 0 1,0 -4.3,0 M56.49,449.0 a2.15,2.15 0 1,0 4.3,0 a2.15,2.15 0 1,0 -4.3,0 M61.41,449.0 a2.15,2.15 0 1,0 4.3,0 a2.15,2.15 0 1,0 -4.3,0 M66.33,449.0 a2.15,2.15 0 1,0 4.3,0 a2.15,2.15 0 1,0 -4.3,0 M71.25,449.0 a2.15,2.15 0 1,0 4.3,0 a2.15,2.15 0 1,0 -4.3,0 M76.17,449.0 a2.15,2.15 0 1,0 4.3,0 a2.15,2.15 0 1,0 -4.3,0 M81.09,449.0 a2.15,2.15 0 1,0 4.3,0 a2.15,2.15 0 1,0 -4.3,0 M86.01,449.0 a2.15,2.15 0 1,0 4.3,0 a2.15,2.15 0 1,0 -4.3,0 M90.94,449.0 a2.15,2.15 0 1,0 4.3,0 a2.15,2.15 0 1,0 -4.3,0 M95.86,449.0 a2.15,2.15 0 1,0 4.3,0 a2.15,2.15 0 1,0 -4.3,0 M100.78,449.0 a2.15,2.15 0 1,0 4.3,0 a2.15,2.15 0 1,0 -4.3,0 M105.70,449.0 a2.15,2.15 0 1,0 4.3,0 a2.15,2.15 0 1,0 -4.3,0 M110.62,449.0 a2.15,2.15 0 1,0 4.3,0 a2.15,2.15 0 1,0 -4.3,0 M115.54,449.0 a2.15,2.15 0 1,0 4.3,0 a2.15,2.15 0 1,0 -4.3,0 M120.46,449.0 a2.15,2.15 0 1,0 4.3,0 a2.15,2.15 0 1,0 -4.3,0 M125.38,449.0 a2.15,2.15 0 1,0 4.3,0 a2.15,2.15 0 1,0 -4.3,0 M130.30,449.0 a2.15,2.15 0 1,0 4.3,0 a2.15,2.15 0 1,0 -4.3,0 M135.22,449.0 a2.15,2.15 0 1,0 4.3,0 a2.15,2.15 0 1,0 -4.3,0 M140.15,449.0 a2.15,2.15 0 1,0 4.3,0 a2.15,2.15 0 1,0 -4.3,0 M145.07,449.0 a2.15,2.15 0 1,0 4.3,0 a2.15,2.15 0 1,0 -4.3,0 M149.99,449.0 a2.15,2.15 0 1,0 4.3,0 a2.15,2.15 0 1,0 -4.3,0 M154.91,449.0 a2.15,2.15 0 1,0 4.3,0 a2.15,2.15 0 1,0 -4.3,0 M159.83,449.0 a2.15,2.15 0 1,0 4.3,0 a2.15,2.15 0 1,0 -4.3,0 M164.75,449.0 a2.15,2.15 0 1,0 4.3,0 a2.15,2.15 0 1,0 -4.3,0 M169.67,449.0 a2.15,2.15 0 1,0 4.3,0 a2.15,2.15 0 1,0 -4.3,0 M174.59,449.0 a2.15,2.15 0 1,0 4.3,0 a2.15,2.15 0 1,0 -4.3,0 M179.51,449.0 a2.15,2.15 0 1,0 4.3,0 a2.15,2.15 0 1,0 -4.3,0 M184.44,449.0 a2.15,2.15 0 1,0 4.3,0 a2.15,2.15 0 1,0 -4.3,0 M189.36,449.0 a2.15,2.15 0 1,0 4.3,0 a2.15,2.15 0 1,0 -4.3,0 M194.28,449.0 a2.15,2.15 0 1,0 4.3,0 a2.15,2.15 0 1,0 -4.3,0 M199.20,449.0 a2.15,2.15 0 1,0 4.3,0 a2.15,2.15 0 1,0 -4.3,0 M204.12,449.0 a2.15,2.15 0 1,0 4.3,0 a2.15,2.15 0 1,0 -4.3,0 M209.04,449.0 a2.15,2.15 0 1,0 4.3,0 a2.15,2.15 0 1,0 -4.3,0 M213.96,449.0 a2.15,2.15 0 1,0 4.3,0 a2.15,2.15 0 1,0 -4.3,0 M218.88,449.0 a2.15,2.15 0 1,0 4.3,0 a2.15,2.15 0 1,0 -4.3,0 M223.80,449.0 a2.15,2.15 0 1,0 4.3,0 a2.15,2.15 0 1,0 -4.3,0 M228.72,449.0 a2.15,2.15 0 1,0 4.3,0 a2.15,2.15 0 1,0 -4.3,0 M233.65,449.0 a2.15,2.15 0 1,0 4.3,0 a2.15,2.15 0 1,0 -4.3,0 M238.57,449.0 a2.15,2.15 0 1,0 4.3,0 a2.15,2.15 0 1,0 -4.3,0 M243.49,449.0 a2.15,2.15 0 1,0 4.3,0 a2.15,2.15 0 1,0 -4.3,0 M248.41,449.0 a2.15,2.15 0 1,0 4.3,0 a2.15,2.15 0 1,0 -4.3,0 " fill="#fffaf2" stroke="#38302c" stroke-width="0.95"/>
</g>
<ellipse cx="128.1" cy="424" rx="5.5" ry="12" fill="#f0853a"/>
<ellipse cx="128.1" cy="445.5" rx="5.2" ry="11.5" fill="#f0853a"/>
<ellipse cx="144.7" cy="424" rx="5.5" ry="12" fill="#f0853a"/>
<ellipse cx="144.7" cy="445.5" rx="5.2" ry="11.5" fill="#f0853a"/>
<ellipse cx="137" cy="404.5" rx="15.1" ry="8.3" fill="#cfe6f7"/>
<ellipse cx="137" cy="404.5" rx="14.6" ry="7.8" fill="#8fc7ef"/>
<text x="137" y="406.90" class="nd" fill="#122849" stroke="#122849" stroke-width="0.25" style="font-size:6.7px">TGF-β</text>
<line x1="124.60" y1="458.50" x2="98.80" y2="593.29" stroke="#1a1a1a" stroke-width="1.85"/>
<polygon points="97.80,598.50 96.34,592.31 101.44,593.29" fill="#1a1a1a"/>
<line x1="128.00" y1="458.50" x2="128.00" y2="560.70" stroke="#1a1a1a" stroke-width="1.85"/>
<polygon points="128.00,566.00 125.40,560.20 130.60,560.20" fill="#1a1a1a"/>
<line x1="68.80" y1="571.00" x2="53.84" y2="513.63" stroke="#1a1a1a" stroke-width="1.85"/>
<polygon points="52.50,508.50 56.48,513.46 51.45,514.77" fill="#1a1a1a"/>
<line x1="112.50" y1="576.20" x2="97.20" y2="579.18" stroke="#1a1a1a" stroke-width="1.85"/>
<polygon points="92.00,580.20 97.19,576.54 98.19,581.64" fill="#1a1a1a"/>
<line x1="81.00" y1="601.50" x2="76.70" y2="594.93" stroke="#1a1a1a" stroke-width="1.85"/>
<polygon points="73.80,590.50 79.15,593.93 74.80,596.78" fill="#1a1a1a"/>
<line x1="108.80" y1="623.80" x2="111.89" y2="625.86" stroke="#1a1a1a" stroke-width="1.85"/>
<polygon points="116.30,628.80 110.03,627.75 112.92,623.42" fill="#1a1a1a"/>
<line x1="108.80" y1="623.80" x2="105.71" y2="621.74" stroke="#1a1a1a" stroke-width="1.85"/>
<polygon points="101.30,618.80 107.57,619.85 104.68,624.18" fill="#1a1a1a"/>
<line x1="128.00" y1="605.25" x2="128.00" y2="619.70" stroke="#1a1a1a" stroke-width="1.85"/>
<polygon points="128.00,625.00 125.40,619.20 130.60,619.20" fill="#1a1a1a"/>
<line x1="128.00" y1="605.25" x2="128.00" y2="590.80" stroke="#1a1a1a" stroke-width="1.85"/>
<polygon points="128.00,585.50 130.60,591.30 125.40,591.30" fill="#1a1a1a"/>
<line x1="207.10" y1="580.20" x2="179.47" y2="573.97" stroke="#1a1a1a" stroke-width="1.85"/>
<polygon points="174.30,572.80 180.53,571.54 179.39,576.61" fill="#1a1a1a"/>
<line x1="206.70" y1="586.50" x2="176.34" y2="594.11" stroke="#1a1a1a" stroke-width="1.85"/>
<polygon points="171.20,595.40 176.19,591.47 177.46,596.51" fill="#1a1a1a"/>
<line x1="176.00" y1="527.00" x2="211.30" y2="572.80" stroke="#1a1a1a" stroke-width="1.85"/>
<line x1="208.73" y1="574.78" x2="213.87" y2="570.82" stroke="#1a1a1a" stroke-width="2.0500000000000003"/>
<line x1="159.60" y1="560.00" x2="161.60" y2="529.00" stroke="#1a1a1a" stroke-width="1.85"/>
<line x1="164.84" y1="529.21" x2="158.36" y2="528.79" stroke="#1a1a1a" stroke-width="2.0500000000000003"/>
<line x1="155.00" y1="510.50" x2="136.20" y2="457.00" stroke="#1a1a1a" stroke-width="1.85"/>
<line x1="139.27" y1="455.92" x2="133.13" y2="458.08" stroke="#1a1a1a" stroke-width="2.0500000000000003"/>
<line x1="151.50" y1="455.00" x2="194.65" y2="495.86" stroke="#1a1a1a" stroke-width="1.85"/>
<polygon points="198.50,499.50 192.50,497.40 196.08,493.62" fill="#1a1a1a"/>
<line x1="192.50" y1="502.50" x2="146.50" y2="461.50" stroke="#1a1a1a" stroke-width="1.85"/>
<line x1="148.66" y1="459.07" x2="144.34" y2="463.93" stroke="#1a1a1a" stroke-width="2.0500000000000003"/>
<line x1="209.50" y1="501.20" x2="225.66" y2="479.27" stroke="#1a1a1a" stroke-width="1.85"/>
<polygon points="228.80,475.00 227.45,481.21 223.27,478.13" fill="#1a1a1a"/>
<line x1="217.50" y1="459.50" x2="154.20" y2="443.50" stroke="#1a1a1a" stroke-width="1.85"/>
<line x1="155.00" y1="440.35" x2="153.40" y2="446.65" stroke="#1a1a1a" stroke-width="2.0500000000000003"/>
<ellipse cx="49.5" cy="497" rx="15.5" ry="8.7" fill="#f9c9a0"/>
<ellipse cx="49.5" cy="497" rx="15" ry="8.2" fill="#f0853a"/>
<text x="49.5" y="499.40" class="nd" fill="#2e1408" stroke="#2e1408" stroke-width="0.25" style="font-size:6.7px">CDKN1B</text>
<ellipse cx="233" cy="465.6" rx="16.0" ry="8.5" fill="#8fdcaa"/>
<ellipse cx="233" cy="465.6" rx="15.5" ry="8" fill="#13a24b"/>
<text x="233" y="468.00" class="nd" fill="#0a4020" stroke="#0a4020" stroke-width="0.25" style="font-size:6.7px">SMURF2</text>
<ellipse cx="206" cy="509.6" rx="15.5" ry="8.8" fill="#cfe6f7"/>
<ellipse cx="206" cy="509.6" rx="15" ry="8.3" fill="#8fc7ef"/>
<text x="206" y="512.00" class="nd" fill="#122849" stroke="#122849" stroke-width="0.25" style="font-size:6.7px">SMAD7</text>
<ellipse cx="162.5" cy="519.4" rx="15.5" ry="8.5" fill="#8fdcaa"/>
<ellipse cx="162.5" cy="519.4" rx="15" ry="8" fill="#13a24b"/>
<text x="162.5" y="521.80" class="nd" fill="#0a4020" stroke="#0a4020" stroke-width="0.25" style="font-size:6.7px">SMURF1</text>
<ellipse cx="160" cy="568" rx="15.5" ry="8.5" fill="#cfe6f7"/>
<ellipse cx="160" cy="568" rx="15" ry="8" fill="#8fc7ef"/>
<text x="160" y="570.40" class="nd" fill="#122849" stroke="#122849" stroke-width="0.25" style="font-size:6.7px">p300</text>
<ellipse cx="127.5" cy="576.2" rx="15.5" ry="8.7" fill="#cfe6f7"/>
<ellipse cx="127.5" cy="576.2" rx="15" ry="8.2" fill="#8fc7ef"/>
<text x="127.5" y="578.60" class="nd" fill="#122849" stroke="#122849" stroke-width="0.25" style="font-size:6.7px">SMAD2</text>
<ellipse cx="75" cy="580.5" rx="15.5" ry="8.7" fill="#cfe6f7"/>
<ellipse cx="75" cy="580.5" rx="15" ry="8.2" fill="#8fc7ef"/>
<text x="75" y="582.90" class="nd" fill="#122849" stroke="#122849" stroke-width="0.25" style="font-size:6.7px" textLength="27.8" lengthAdjust="spacingAndGlyphs">CDKN1A</text>
<ellipse cx="222.3" cy="583.7" rx="15.5" ry="8.7" fill="#f9c9a0"/>
<ellipse cx="222.3" cy="583.7" rx="15" ry="8.2" fill="#f0853a"/>
<text x="222.3" y="586.10" class="nd" fill="#2e1408" stroke="#2e1408" stroke-width="0.25" style="font-size:6.7px">SMAD4</text>
<ellipse cx="154.5" cy="596.2" rx="15.5" ry="8.1" fill="#f9c9a0"/>
<ellipse cx="154.5" cy="596.2" rx="15" ry="7.6" fill="#f0853a"/>
<text x="154.5" y="598.60" class="nd" fill="#2e1408" stroke="#2e1408" stroke-width="0.25" style="font-size:6.7px">SMAD9</text>
<ellipse cx="95" cy="609.2" rx="15.5" ry="8.7" fill="#cfe6f7"/>
<ellipse cx="95" cy="609.2" rx="15" ry="8.2" fill="#8fc7ef"/>
<text x="95" y="611.60" class="nd" fill="#122849" stroke="#122849" stroke-width="0.25" style="font-size:6.7px">SMAD3</text>
<ellipse cx="128.5" cy="634.5" rx="15.5" ry="8.9" fill="#f9c9a0"/>
<ellipse cx="128.5" cy="634.5" rx="15" ry="8.4" fill="#f0853a"/>
<text x="128.5" y="636.90" class="nd" fill="#2e1408" stroke="#2e1408" stroke-width="0.25" style="font-size:6.7px">CBLB</text>
<rect x="158.8" y="617.4" width="85" height="33.4" fill="#b4dce7" stroke="#1f2b33" stroke-width="1.5"/>
<text x="201.3" y="627.4" class="bx">Cell Growth</text>
<text x="201.3" y="638.4" class="bx">Immunosuppression</text>
<text x="201.3" y="648.6" class="bx">Invasion</text>
<text x="265.6" y="377.8" class="plet" style="font-size:17.4px">F</text>
<rect x="273.5" y="382.6" width="244" height="44" fill="#ece4e1"/>
<rect x="273.5" y="449" width="244" height="217" fill="url(#gF)"/>
<rect x="496" y="382.5" width="21.5" height="283.5" fill="url(#gR)" opacity="0.5" mask="url(#mV)"/>
<clipPath id="mcF"><rect x="273.5" y="422.0" width="244.0" height="31.30000000000001"/></clipPath>
<g clip-path="url(#mcF)">
<rect x="273.5" y="426.0" width="244.0" height="23.30000000000001" fill="#fcece0"/>
<path d="M275.20,428.3 c-1.3,2.5 0.6,5 -0.3,9.3 M277.00,428.3 c1.3,2.5 -0.6,5 0.3,9.3 M275.20,447.0 c-1.3,-2.5 0.6,-5 -0.3,-9.3 M277.00,447.0 c1.3,-2.5 -0.6,-5 0.3,-9.3 M280.09,428.3 c-1.3,2.5 0.6,5 -0.3,9.3 M281.89,428.3 c1.3,2.5 -0.6,5 0.3,9.3 M280.09,447.0 c-1.3,-2.5 0.6,-5 -0.3,-9.3 M281.89,447.0 c1.3,-2.5 -0.6,-5 0.3,-9.3 M284.97,428.3 c-1.3,2.5 0.6,5 -0.3,9.3 M286.77,428.3 c1.3,2.5 -0.6,5 0.3,9.3 M284.97,447.0 c-1.3,-2.5 0.6,-5 -0.3,-9.3 M286.77,447.0 c1.3,-2.5 -0.6,-5 0.3,-9.3 M289.86,428.3 c-1.3,2.5 0.6,5 -0.3,9.3 M291.66,428.3 c1.3,2.5 -0.6,5 0.3,9.3 M289.86,447.0 c-1.3,-2.5 0.6,-5 -0.3,-9.3 M291.66,447.0 c1.3,-2.5 -0.6,-5 0.3,-9.3 M294.74,428.3 c-1.3,2.5 0.6,5 -0.3,9.3 M296.54,428.3 c1.3,2.5 -0.6,5 0.3,9.3 M294.74,447.0 c-1.3,-2.5 0.6,-5 -0.3,-9.3 M296.54,447.0 c1.3,-2.5 -0.6,-5 0.3,-9.3 M299.63,428.3 c-1.3,2.5 0.6,5 -0.3,9.3 M301.43,428.3 c1.3,2.5 -0.6,5 0.3,9.3 M299.63,447.0 c-1.3,-2.5 0.6,-5 -0.3,-9.3 M301.43,447.0 c1.3,-2.5 -0.6,-5 0.3,-9.3 M304.52,428.3 c-1.3,2.5 0.6,5 -0.3,9.3 M306.32,428.3 c1.3,2.5 -0.6,5 0.3,9.3 M304.52,447.0 c-1.3,-2.5 0.6,-5 -0.3,-9.3 M306.32,447.0 c1.3,-2.5 -0.6,-5 0.3,-9.3 M309.40,428.3 c-1.3,2.5 0.6,5 -0.3,9.3 M311.20,428.3 c1.3,2.5 -0.6,5 0.3,9.3 M309.40,447.0 c-1.3,-2.5 0.6,-5 -0.3,-9.3 M311.20,447.0 c1.3,-2.5 -0.6,-5 0.3,-9.3 M314.29,428.3 c-1.3,2.5 0.6,5 -0.3,9.3 M316.09,428.3 c1.3,2.5 -0.6,5 0.3,9.3 M314.29,447.0 c-1.3,-2.5 0.6,-5 -0.3,-9.3 M316.09,447.0 c1.3,-2.5 -0.6,-5 0.3,-9.3 M319.17,428.3 c-1.3,2.5 0.6,5 -0.3,9.3 M320.97,428.3 c1.3,2.5 -0.6,5 0.3,9.3 M319.17,447.0 c-1.3,-2.5 0.6,-5 -0.3,-9.3 M320.97,447.0 c1.3,-2.5 -0.6,-5 0.3,-9.3 M324.06,428.3 c-1.3,2.5 0.6,5 -0.3,9.3 M325.86,428.3 c1.3,2.5 -0.6,5 0.3,9.3 M324.06,447.0 c-1.3,-2.5 0.6,-5 -0.3,-9.3 M325.86,447.0 c1.3,-2.5 -0.6,-5 0.3,-9.3 M328.95,428.3 c-1.3,2.5 0.6,5 -0.3,9.3 M330.75,428.3 c1.3,2.5 -0.6,5 0.3,9.3 M328.95,447.0 c-1.3,-2.5 0.6,-5 -0.3,-9.3 M330.75,447.0 c1.3,-2.5 -0.6,-5 0.3,-9.3 M333.83,428.3 c-1.3,2.5 0.6,5 -0.3,9.3 M335.63,428.3 c1.3,2.5 -0.6,5 0.3,9.3 M333.83,447.0 c-1.3,-2.5 0.6,-5 -0.3,-9.3 M335.63,447.0 c1.3,-2.5 -0.6,-5 0.3,-9.3 M338.72,428.3 c-1.3,2.5 0.6,5 -0.3,9.3 M340.52,428.3 c1.3,2.5 -0.6,5 0.3,9.3 M338.72,447.0 c-1.3,-2.5 0.6,-5 -0.3,-9.3 M340.52,447.0 c1.3,-2.5 -0.6,-5 0.3,-9.3 M343.60,428.3 c-1.3,2.5 0.6,5 -0.3,9.3 M345.40,428.3 c1.3,2.5 -0.6,5 0.3,9.3 M343.60,447.0 c-1.3,-2.5 0.6,-5 -0.3,-9.3 M345.40,447.0 c1.3,-2.5 -0.6,-5 0.3,-9.3 M348.49,428.3 c-1.3,2.5 0.6,5 -0.3,9.3 M350.29,428.3 c1.3,2.5 -0.6,5 0.3,9.3 M348.49,447.0 c-1.3,-2.5 0.6,-5 -0.3,-9.3 M350.29,447.0 c1.3,-2.5 -0.6,-5 0.3,-9.3 M353.38,428.3 c-1.3,2.5 0.6,5 -0.3,9.3 M355.18,428.3 c1.3,2.5 -0.6,5 0.3,9.3 M353.38,447.0 c-1.3,-2.5 0.6,-5 -0.3,-9.3 M355.18,447.0 c1.3,-2.5 -0.6,-5 0.3,-9.3 M358.26,428.3 c-1.3,2.5 0.6,5 -0.3,9.3 M360.06,428.3 c1.3,2.5 -0.6,5 0.3,9.3 M358.26,447.0 c-1.3,-2.5 0.6,-5 -0.3,-9.3 M360.06,447.0 c1.3,-2.5 -0.6,-5 0.3,-9.3 M363.15,428.3 c-1.3,2.5 0.6,5 -0.3,9.3 M364.95,428.3 c1.3,2.5 -0.6,5 0.3,9.3 M363.15,447.0 c-1.3,-2.5 0.6,-5 -0.3,-9.3 M364.95,447.0 c1.3,-2.5 -0.6,-5 0.3,-9.3 M368.03,428.3 c-1.3,2.5 0.6,5 -0.3,9.3 M369.83,428.3 c1.3,2.5 -0.6,5 0.3,9.3 M368.03,447.0 c-1.3,-2.5 0.6,-5 -0.3,-9.3 M369.83,447.0 c1.3,-2.5 -0.6,-5 0.3,-9.3 M372.92,428.3 c-1.3,2.5 0.6,5 -0.3,9.3 M374.72,428.3 c1.3,2.5 -0.6,5 0.3,9.3 M372.92,447.0 c-1.3,-2.5 0.6,-5 -0.3,-9.3 M374.72,447.0 c1.3,-2.5 -0.6,-5 0.3,-9.3 M377.81,428.3 c-1.3,2.5 0.6,5 -0.3,9.3 M379.61,428.3 c1.3,2.5 -0.6,5 0.3,9.3 M377.81,447.0 c-1.3,-2.5 0.6,-5 -0.3,-9.3 M379.61,447.0 c1.3,-2.5 -0.6,-5 0.3,-9.3 M382.69,428.3 c-1.3,2.5 0.6,5 -0.3,9.3 M384.49,428.3 c1.3,2.5 -0.6,5 0.3,9.3 M382.69,447.0 c-1.3,-2.5 0.6,-5 -0.3,-9.3 M384.49,447.0 c1.3,-2.5 -0.6,-5 0.3,-9.3 M387.58,428.3 c-1.3,2.5 0.6,5 -0.3,9.3 M389.38,428.3 c1.3,2.5 -0.6,5 0.3,9.3 M387.58,447.0 c-1.3,-2.5 0.6,-5 -0.3,-9.3 M389.38,447.0 c1.3,-2.5 -0.6,-5 0.3,-9.3 M392.46,428.3 c-1.3,2.5 0.6,5 -0.3,9.3 M394.26,428.3 c1.3,2.5 -0.6,5 0.3,9.3 M392.46,447.0 c-1.3,-2.5 0.6,-5 -0.3,-9.3 M394.26,447.0 c1.3,-2.5 -0.6,-5 0.3,-9.3 M397.35,428.3 c-1.3,2.5 0.6,5 -0.3,9.3 M399.15,428.3 c1.3,2.5 -0.6,5 0.3,9.3 M397.35,447.0 c-1.3,-2.5 0.6,-5 -0.3,-9.3 M399.15,447.0 c1.3,-2.5 -0.6,-5 0.3,-9.3 M402.24,428.3 c-1.3,2.5 0.6,5 -0.3,9.3 M404.04,428.3 c1.3,2.5 -0.6,5 0.3,9.3 M402.24,447.0 c-1.3,-2.5 0.6,-5 -0.3,-9.3 M404.04,447.0 c1.3,-2.5 -0.6,-5 0.3,-9.3 M407.12,428.3 c-1.3,2.5 0.6,5 -0.3,9.3 M408.92,428.3 c1.3,2.5 -0.6,5 0.3,9.3 M407.12,447.0 c-1.3,-2.5 0.6,-5 -0.3,-9.3 M408.92,447.0 c1.3,-2.5 -0.6,-5 0.3,-9.3 M412.01,428.3 c-1.3,2.5 0.6,5 -0.3,9.3 M413.81,428.3 c1.3,2.5 -0.6,5 0.3,9.3 M412.01,447.0 c-1.3,-2.5 0.6,-5 -0.3,-9.3 M413.81,447.0 c1.3,-2.5 -0.6,-5 0.3,-9.3 M416.89,428.3 c-1.3,2.5 0.6,5 -0.3,9.3 M418.69,428.3 c1.3,2.5 -0.6,5 0.3,9.3 M416.89,447.0 c-1.3,-2.5 0.6,-5 -0.3,-9.3 M418.69,447.0 c1.3,-2.5 -0.6,-5 0.3,-9.3 M421.78,428.3 c-1.3,2.5 0.6,5 -0.3,9.3 M423.58,428.3 c1.3,2.5 -0.6,5 0.3,9.3 M421.78,447.0 c-1.3,-2.5 0.6,-5 -0.3,-9.3 M423.58,447.0 c1.3,-2.5 -0.6,-5 0.3,-9.3 M426.67,428.3 c-1.3,2.5 0.6,5 -0.3,9.3 M428.47,428.3 c1.3,2.5 -0.6,5 0.3,9.3 M426.67,447.0 c-1.3,-2.5 0.6,-5 -0.3,-9.3 M428.47,447.0 c1.3,-2.5 -0.6,-5 0.3,-9.3 M431.55,428.3 c-1.3,2.5 0.6,5 -0.3,9.3 M433.35,428.3 c1.3,2.5 -0.6,5 0.3,9.3 M431.55,447.0 c-1.3,-2.5 0.6,-5 -0.3,-9.3 M433.35,447.0 c1.3,-2.5 -0.6,-5 0.3,-9.3 M436.44,428.3 c-1.3,2.5 0.6,5 -0.3,9.3 M438.24,428.3 c1.3,2.5 -0.6,5 0.3,9.3 M436.44,447.0 c-1.3,-2.5 0.6,-5 -0.3,-9.3 M438.24,447.0 c1.3,-2.5 -0.6,-5 0.3,-9.3 M441.32,428.3 c-1.3,2.5 0.6,5 -0.3,9.3 M443.12,428.3 c1.3,2.5 -0.6,5 0.3,9.3 M441.32,447.0 c-1.3,-2.5 0.6,-5 -0.3,-9.3 M443.12,447.0 c1.3,-2.5 -0.6,-5 0.3,-9.3 M446.21,428.3 c-1.3,2.5 0.6,5 -0.3,9.3 M448.01,428.3 c1.3,2.5 -0.6,5 0.3,9.3 M446.21,447.0 c-1.3,-2.5 0.6,-5 -0.3,-9.3 M448.01,447.0 c1.3,-2.5 -0.6,-5 0.3,-9.3 M451.10,428.3 c-1.3,2.5 0.6,5 -0.3,9.3 M452.90,428.3 c1.3,2.5 -0.6,5 0.3,9.3 M451.10,447.0 c-1.3,-2.5 0.6,-5 -0.3,-9.3 M452.90,447.0 c1.3,-2.5 -0.6,-5 0.3,-9.3 M455.98,428.3 c-1.3,2.5 0.6,5 -0.3,9.3 M457.78,428.3 c1.3,2.5 -0.6,5 0.3,9.3 M455.98,447.0 c-1.3,-2.5 0.6,-5 -0.3,-9.3 M457.78,447.0 c1.3,-2.5 -0.6,-5 0.3,-9.3 M460.87,428.3 c-1.3,2.5 0.6,5 -0.3,9.3 M462.67,428.3 c1.3,2.5 -0.6,5 0.3,9.3 M460.87,447.0 c-1.3,-2.5 0.6,-5 -0.3,-9.3 M462.67,447.0 c1.3,-2.5 -0.6,-5 0.3,-9.3 M465.75,428.3 c-1.3,2.5 0.6,5 -0.3,9.3 M467.55,428.3 c1.3,2.5 -0.6,5 0.3,9.3 M465.75,447.0 c-1.3,-2.5 0.6,-5 -0.3,-9.3 M467.55,447.0 c1.3,-2.5 -0.6,-5 0.3,-9.3 M470.64,428.3 c-1.3,2.5 0.6,5 -0.3,9.3 M472.44,428.3 c1.3,2.5 -0.6,5 0.3,9.3 M470.64,447.0 c-1.3,-2.5 0.6,-5 -0.3,-9.3 M472.44,447.0 c1.3,-2.5 -0.6,-5 0.3,-9.3 M475.53,428.3 c-1.3,2.5 0.6,5 -0.3,9.3 M477.33,428.3 c1.3,2.5 -0.6,5 0.3,9.3 M475.53,447.0 c-1.3,-2.5 0.6,-5 -0.3,-9.3 M477.33,447.0 c1.3,-2.5 -0.6,-5 0.3,-9.3 M480.41,428.3 c-1.3,2.5 0.6,5 -0.3,9.3 M482.21,428.3 c1.3,2.5 -0.6,5 0.3,9.3 M480.41,447.0 c-1.3,-2.5 0.6,-5 -0.3,-9.3 M482.21,447.0 c1.3,-2.5 -0.6,-5 0.3,-9.3 M485.30,428.3 c-1.3,2.5 0.6,5 -0.3,9.3 M487.10,428.3 c1.3,2.5 -0.6,5 0.3,9.3 M485.30,447.0 c-1.3,-2.5 0.6,-5 -0.3,-9.3 M487.10,447.0 c1.3,-2.5 -0.6,-5 0.3,-9.3 M490.18,428.3 c-1.3,2.5 0.6,5 -0.3,9.3 M491.98,428.3 c1.3,2.5 -0.6,5 0.3,9.3 M490.18,447.0 c-1.3,-2.5 0.6,-5 -0.3,-9.3 M491.98,447.0 c1.3,-2.5 -0.6,-5 0.3,-9.3 M495.07,428.3 c-1.3,2.5 0.6,5 -0.3,9.3 M496.87,428.3 c1.3,2.5 -0.6,5 0.3,9.3 M495.07,447.0 c-1.3,-2.5 0.6,-5 -0.3,-9.3 M496.87,447.0 c1.3,-2.5 -0.6,-5 0.3,-9.3 M499.96,428.3 c-1.3,2.5 0.6,5 -0.3,9.3 M501.76,428.3 c1.3,2.5 -0.6,5 0.3,9.3 M499.96,447.0 c-1.3,-2.5 0.6,-5 -0.3,-9.3 M501.76,447.0 c1.3,-2.5 -0.6,-5 0.3,-9.3 M504.84,428.3 c-1.3,2.5 0.6,5 -0.3,9.3 M506.64,428.3 c1.3,2.5 -0.6,5 0.3,9.3 M504.84,447.0 c-1.3,-2.5 0.6,-5 -0.3,-9.3 M506.64,447.0 c1.3,-2.5 -0.6,-5 0.3,-9.3 M509.73,428.3 c-1.3,2.5 0.6,5 -0.3,9.3 M511.53,428.3 c1.3,2.5 -0.6,5 0.3,9.3 M509.73,447.0 c-1.3,-2.5 0.6,-5 -0.3,-9.3 M511.53,447.0 c1.3,-2.5 -0.6,-5 0.3,-9.3 M514.61,428.3 c-1.3,2.5 0.6,5 -0.3,9.3 M516.41,428.3 c1.3,2.5 -0.6,5 0.3,9.3 M514.61,447.0 c-1.3,-2.5 0.6,-5 -0.3,-9.3 M516.41,447.0 c1.3,-2.5 -0.6,-5 0.3,-9.3 M519.50,428.3 c-1.3,2.5 0.6,5 -0.3,9.3 M521.30,428.3 c1.3,2.5 -0.6,5 0.3,9.3 M519.50,447.0 c-1.3,-2.5 0.6,-5 -0.3,-9.3 M521.30,447.0 c1.3,-2.5 -0.6,-5 0.3,-9.3 " fill="none" stroke="#f4bd8e" stroke-width="1.0"/>
<path d="M273.95,426.0 a2.15,2.15 0 1,0 4.3,0 a2.15,2.15 0 1,0 -4.3,0 M278.84,426.0 a2.15,2.15 0 1,0 4.3,0 a2.15,2.15 0 1,0 -4.3,0 M283.72,426.0 a2.15,2.15 0 1,0 4.3,0 a2.15,2.15 0 1,0 -4.3,0 M288.61,426.0 a2.15,2.15 0 1,0 4.3,0 a2.15,2.15 0 1,0 -4.3,0 M293.49,426.0 a2.15,2.15 0 1,0 4.3,0 a2.15,2.15 0 1,0 -4.3,0 M298.38,426.0 a2.15,2.15 0 1,0 4.3,0 a2.15,2.15 0 1,0 -4.3,0 M303.27,426.0 a2.15,2.15 0 1,0 4.3,0 a2.15,2.15 0 1,0 -4.3,0 M308.15,426.0 a2.15,2.15 0 1,0 4.3,0 a2.15,2.15 0 1,0 -4.3,0 M313.04,426.0 a2.15,2.15 0 1,0 4.3,0 a2.15,2.15 0 1,0 -4.3,0 M317.92,426.0 a2.15,2.15 0 1,0 4.3,0 a2.15,2.15 0 1,0 -4.3,0 M322.81,426.0 a2.15,2.15 0 1,0 4.3,0 a2.15,2.15 0 1,0 -4.3,0 M327.70,426.0 a2.15,2.15 0 1,0 4.3,0 a2.15,2.15 0 1,0 -4.3,0 M332.58,426.0 a2.15,2.15 0 1,0 4.3,0 a2.15,2.15 0 1,0 -4.3,0 M337.47,426.0 a2.15,2.15 0 1,0 4.3,0 a2.15,2.15 0 1,0 -4.3,0 M342.35,426.0 a2.15,2.15 0 1,0 4.3,0 a2.15,2.15 0 1,0 -4.3,0 M347.24,426.0 a2.15,2.15 0 1,0 4.3,0 a2.15,2.15 0 1,0 -4.3,0 M352.13,426.0 a2.15,2.15 0 1,0 4.3,0 a2.15,2.15 0 1,0 -4.3,0 M357.01,426.0 a2.15,2.15 0 1,0 4.3,0 a2.15,2.15 0 1,0 -4.3,0 M361.90,426.0 a2.15,2.15 0 1,0 4.3,0 a2.15,2.15 0 1,0 -4.3,0 M366.78,426.0 a2.15,2.15 0 1,0 4.3,0 a2.15,2.15 0 1,0 -4.3,0 M371.67,426.0 a2.15,2.15 0 1,0 4.3,0 a2.15,2.15 0 1,0 -4.3,0 M376.56,426.0 a2.15,2.15 0 1,0 4.3,0 a2.15,2.15 0 1,0 -4.3,0 M381.44,426.0 a2.15,2.15 0 1,0 4.3,0 a2.15,2.15 0 1,0 -4.3,0 M386.33,426.0 a2.15,2.15 0 1,0 4.3,0 a2.15,2.15 0 1,0 -4.3,0 M391.21,426.0 a2.15,2.15 0 1,0 4.3,0 a2.15,2.15 0 1,0 -4.3,0 M396.10,426.0 a2.15,2.15 0 1,0 4.3,0 a2.15,2.15 0 1,0 -4.3,0 M400.99,426.0 a2.15,2.15 0 1,0 4.3,0 a2.15,2.15 0 1,0 -4.3,0 M405.87,426.0 a2.15,2.15 0 1,0 4.3,0 a2.15,2.15 0 1,0 -4.3,0 M410.76,426.0 a2.15,2.15 0 1,0 4.3,0 a2.15,2.15 0 1,0 -4.3,0 M415.64,426.0 a2.15,2.15 0 1,0 4.3,0 a2.15,2.15 0 1,0 -4.3,0 M420.53,426.0 a2.15,2.15 0 1,0 4.3,0 a2.15,2.15 0 1,0 -4.3,0 M425.42,426.0 a2.15,2.15 0 1,0 4.3,0 a2.15,2.15 0 1,0 -4.3,0 M430.30,426.0 a2.15,2.15 0 1,0 4.3,0 a2.15,2.15 0 1,0 -4.3,0 M435.19,426.0 a2.15,2.15 0 1,0 4.3,0 a2.15,2.15 0 1,0 -4.3,0 M440.07,426.0 a2.15,2.15 0 1,0 4.3,0 a2.15,2.15 0 1,0 -4.3,0 M444.96,426.0 a2.15,2.15 0 1,0 4.3,0 a2.15,2.15 0 1,0 -4.3,0 M449.85,426.0 a2.15,2.15 0 1,0 4.3,0 a2.15,2.15 0 1,0 -4.3,0 M454.73,426.0 a2.15,2.15 0 1,0 4.3,0 a2.15,2.15 0 1,0 -4.3,0 M459.62,426.0 a2.15,2.15 0 1,0 4.3,0 a2.15,2.15 0 1,0 -4.3,0 M464.50,426.0 a2.15,2.15 0 1,0 4.3,0 a2.15,2.15 0 1,0 -4.3,0 M469.39,426.0 a2.15,2.15 0 1,0 4.3,0 a2.15,2.15 0 1,0 -4.3,0 M474.28,426.0 a2.15,2.15 0 1,0 4.3,0 a2.15,2.15 0 1,0 -4.3,0 M479.16,426.0 a2.15,2.15 0 1,0 4.3,0 a2.15,2.15 0 1,0 -4.3,0 M484.05,426.0 a2.15,2.15 0 1,0 4.3,0 a2.15,2.15 0 1,0 -4.3,0 M488.93,426.0 a2.15,2.15 0 1,0 4.3,0 a2.15,2.15 0 1,0 -4.3,0 M493.82,426.0 a2.15,2.15 0 1,0 4.3,0 a2.15,2.15 0 1,0 -4.3,0 M498.71,426.0 a2.15,2.15 0 1,0 4.3,0 a2.15,2.15 0 1,0 -4.3,0 M503.59,426.0 a2.15,2.15 0 1,0 4.3,0 a2.15,2.15 0 1,0 -4.3,0 M508.48,426.0 a2.15,2.15 0 1,0 4.3,0 a2.15,2.15 0 1,0 -4.3,0 M513.36,426.0 a2.15,2.15 0 1,0 4.3,0 a2.15,2.15 0 1,0 -4.3,0 M518.25,426.0 a2.15,2.15 0 1,0 4.3,0 a2.15,2.15 0 1,0 -4.3,0 " fill="#fffaf2" stroke="#38302c" stroke-width="0.95"/>
<path d="M273.95,449.3 a2.15,2.15 0 1,0 4.3,0 a2.15,2.15 0 1,0 -4.3,0 M278.84,449.3 a2.15,2.15 0 1,0 4.3,0 a2.15,2.15 0 1,0 -4.3,0 M283.72,449.3 a2.15,2.15 0 1,0 4.3,0 a2.15,2.15 0 1,0 -4.3,0 M288.61,449.3 a2.15,2.15 0 1,0 4.3,0 a2.15,2.15 0 1,0 -4.3,0 M293.49,449.3 a2.15,2.15 0 1,0 4.3,0 a2.15,2.15 0 1,0 -4.3,0 M298.38,449.3 a2.15,2.15 0 1,0 4.3,0 a2.15,2.15 0 1,0 -4.3,0 M303.27,449.3 a2.15,2.15 0 1,0 4.3,0 a2.15,2.15 0 1,0 -4.3,0 M308.15,449.3 a2.15,2.15 0 1,0 4.3,0 a2.15,2.15 0 1,0 -4.3,0 M313.04,449.3 a2.15,2.15 0 1,0 4.3,0 a2.15,2.15 0 1,0 -4.3,0 M317.92,449.3 a2.15,2.15 0 1,0 4.3,0 a2.15,2.15 0 1,0 -4.3,0 M322.81,449.3 a2.15,2.15 0 1,0 4.3,0 a2.15,2.15 0 1,0 -4.3,0 M327.70,449.3 a2.15,2.15 0 1,0 4.3,0 a2.15,2.15 0 1,0 -4.3,0 M332.58,449.3 a2.15,2.15 0 1,0 4.3,0 a2.15,2.15 0 1,0 -4.3,0 M337.47,449.3 a2.15,2.15 0 1,0 4.3,0 a2.15,2.15 0 1,0 -4.3,0 M342.35,449.3 a2.15,2.15 0 1,0 4.3,0 a2.15,2.15 0 1,0 -4.3,0 M347.24,449.3 a2.15,2.15 0 1,0 4.3,0 a2.15,2.15 0 1,0 -4.3,0 M352.13,449.3 a2.15,2.15 0 1,0 4.3,0 a2.15,2.15 0 1,0 -4.3,0 M357.01,449.3 a2.15,2.15 0 1,0 4.3,0 a2.15,2.15 0 1,0 -4.3,0 M361.90,449.3 a2.15,2.15 0 1,0 4.3,0 a2.15,2.15 0 1,0 -4.3,0 M366.78,449.3 a2.15,2.15 0 1,0 4.3,0 a2.15,2.15 0 1,0 -4.3,0 M371.67,449.3 a2.15,2.15 0 1,0 4.3,0 a2.15,2.15 0 1,0 -4.3,0 M376.56,449.3 a2.15,2.15 0 1,0 4.3,0 a2.15,2.15 0 1,0 -4.3,0 M381.44,449.3 a2.15,2.15 0 1,0 4.3,0 a2.15,2.15 0 1,0 -4.3,0 M386.33,449.3 a2.15,2.15 0 1,0 4.3,0 a2.15,2.15 0 1,0 -4.3,0 M391.21,449.3 a2.15,2.15 0 1,0 4.3,0 a2.15,2.15 0 1,0 -4.3,0 M396.10,449.3 a2.15,2.15 0 1,0 4.3,0 a2.15,2.15 0 1,0 -4.3,0 M400.99,449.3 a2.15,2.15 0 1,0 4.3,0 a2.15,2.15 0 1,0 -4.3,0 M405.87,449.3 a2.15,2.15 0 1,0 4.3,0 a2.15,2.15 0 1,0 -4.3,0 M410.76,449.3 a2.15,2.15 0 1,0 4.3,0 a2.15,2.15 0 1,0 -4.3,0 M415.64,449.3 a2.15,2.15 0 1,0 4.3,0 a2.15,2.15 0 1,0 -4.3,0 M420.53,449.3 a2.15,2.15 0 1,0 4.3,0 a2.15,2.15 0 1,0 -4.3,0 M425.42,449.3 a2.15,2.15 0 1,0 4.3,0 a2.15,2.15 0 1,0 -4.3,0 M430.30,449.3 a2.15,2.15 0 1,0 4.3,0 a2.15,2.15 0 1,0 -4.3,0 M435.19,449.3 a2.15,2.15 0 1,0 4.3,0 a2.15,2.15 0 1,0 -4.3,0 M440.07,449.3 a2.15,2.15 0 1,0 4.3,0 a2.15,2.15 0 1,0 -4.3,0 M444.96,449.3 a2.15,2.15 0 1,0 4.3,0 a2.15,2.15 0 1,0 -4.3,0 M449.85,449.3 a2.15,2.15 0 1,0 4.3,0 a2.15,2.15 0 1,0 -4.3,0 M454.73,449.3 a2.15,2.15 0 1,0 4.3,0 a2.15,2.15 0 1,0 -4.3,0 M459.62,449.3 a2.15,2.15 0 1,0 4.3,0 a2.15,2.15 0 1,0 -4.3,0 M464.50,449.3 a2.15,2.15 0 1,0 4.3,0 a2.15,2.15 0 1,0 -4.3,0 M469.39,449.3 a2.15,2.15 0 1,0 4.3,0 a2.15,2.15 0 1,0 -4.3,0 M474.28,449.3 a2.15,2.15 0 1,0 4.3,0 a2.15,2.15 0 1,0 -4.3,0 M479.16,449.3 a2.15,2.15 0 1,0 4.3,0 a2.15,2.15 0 1,0 -4.3,0 M484.05,449.3 a2.15,2.15 0 1,0 4.3,0 a2.15,2.15 0 1,0 -4.3,0 M488.93,449.3 a2.15,2.15 0 1,0 4.3,0 a2.15,2.15 0 1,0 -4.3,0 M493.82,449.3 a2.15,2.15 0 1,0 4.3,0 a2.15,2.15 0 1,0 -4.3,0 M498.71,449.3 a2.15,2.15 0 1,0 4.3,0 a2.15,2.15 0 1,0 -4.3,0 M503.59,449.3 a2.15,2.15 0 1,0 4.3,0 a2.15,2.15 0 1,0 -4.3,0 M508.48,449.3 a2.15,2.15 0 1,0 4.3,0 a2.15,2.15 0 1,0 -4.3,0 M513.36,449.3 a2.15,2.15 0 1,0 4.3,0 a2.15,2.15 0 1,0 -4.3,0 M518.25,449.3 a2.15,2.15 0 1,0 4.3,0 a2.15,2.15 0 1,0 -4.3,0 " fill="#fffaf2" stroke="#38302c" stroke-width="0.95"/>
</g>
<path d="M390.2,416.6 L395.6,416.3 Q402.3,419.5 402.2,428 L402.2,436 L391.4,436 Q392.2,432.5 395.6,428.2 Q394.5,424.5 390.6,423.2 Z" fill="#13a24b" stroke="#6fd69a" stroke-width="0.4"/>
<ellipse cx="396.9" cy="446.3" rx="5.35" ry="13.6" fill="#13a24b"/>
<path d="M420.4,416.6 L415.0,416.3 Q408.3,419.5 408.4,428 L408.4,436 L419.2,436 Q418.4,432.5 415.0,428.2 Q416.1,424.5 420.0,423.2 Z" fill="#13a24b" stroke="#6fd69a" stroke-width="0.4"/>
<ellipse cx="413.7" cy="446.3" rx="5.35" ry="13.6" fill="#13a24b"/>
<line x1="342.25" y1="405.50" x2="346.84" y2="403.02" stroke="#1a1a1a" stroke-width="1.85"/>
<polygon points="351.50,400.50 347.63,405.55 345.16,400.97" fill="#1a1a1a"/>
<line x1="342.25" y1="405.50" x2="337.66" y2="407.98" stroke="#1a1a1a" stroke-width="1.85"/>
<polygon points="333.00,410.50 336.87,405.45 339.34,410.03" fill="#1a1a1a"/>
<line x1="378.00" y1="404.00" x2="384.34" y2="410.66" stroke="#1a1a1a" stroke-width="1.85"/>
<polygon points="388.00,414.50 382.12,412.09 385.88,408.51" fill="#1a1a1a"/>
<line x1="405.60" y1="406.00" x2="405.60" y2="415.70" stroke="#1a1a1a" stroke-width="1.85"/>
<polygon points="405.60,421.00 403.00,415.20 408.20,415.20" fill="#1a1a1a"/>
<line x1="433.00" y1="402.50" x2="426.57" y2="409.58" stroke="#1a1a1a" stroke-width="1.85"/>
<polygon points="423.00,413.50 424.98,407.46 428.83,410.96" fill="#1a1a1a"/>
<line x1="472.75" y1="394.10" x2="481.21" y2="393.55" stroke="#1a1a1a" stroke-width="1.85"/>
<polygon points="486.50,393.20 480.88,396.17 480.54,390.98" fill="#1a1a1a"/>
<line x1="472.75" y1="394.10" x2="464.29" y2="394.65" stroke="#1a1a1a" stroke-width="1.85"/>
<polygon points="459.00,395.00 464.62,392.03 464.96,397.22" fill="#1a1a1a"/>
<line x1="468.00" y1="404.00" x2="473.55" y2="406.11" stroke="#1a1a1a" stroke-width="1.85"/>
<polygon points="478.50,408.00 472.15,408.36 474.01,403.51" fill="#1a1a1a"/>
<line x1="468.00" y1="404.00" x2="462.45" y2="401.89" stroke="#1a1a1a" stroke-width="1.85"/>
<polygon points="457.50,400.00 463.85,399.64 461.99,404.49" fill="#1a1a1a"/>
<line x1="393.50" y1="461.00" x2="381.08" y2="474.59" stroke="#1a1a1a" stroke-width="1.85"/>
<polygon points="377.50,478.50 379.49,472.47 383.33,475.97" fill="#1a1a1a"/>
<line x1="414.00" y1="460.50" x2="414.00" y2="476.20" stroke="#1a1a1a" stroke-width="1.85"/>
<polygon points="414.00,481.50 411.40,475.70 416.60,475.70" fill="#1a1a1a"/>
<line x1="420.50" y1="457.50" x2="425.96" y2="460.77" stroke="#1a1a1a" stroke-width="1.85"/>
<polygon points="430.50,463.50 424.19,462.75 426.86,458.29" fill="#1a1a1a"/>
<line x1="434.50" y1="477.00" x2="428.74" y2="481.32" stroke="#1a1a1a" stroke-width="1.85"/>
<polygon points="424.50,484.50 427.58,478.94 430.70,483.10" fill="#1a1a1a"/>
<line x1="402.50" y1="499.50" x2="393.49" y2="505.18" stroke="#1a1a1a" stroke-width="1.85"/>
<polygon points="389.00,508.00 392.52,502.71 395.29,507.11" fill="#1a1a1a"/>
<line x1="358.50" y1="495.50" x2="345.36" y2="507.87" stroke="#1a1a1a" stroke-width="1.85"/>
<polygon points="341.50,511.50 343.94,505.63 347.51,509.42" fill="#1a1a1a"/>
<line x1="363.00" y1="516.40" x2="352.71" y2="518.33" stroke="#1a1a1a" stroke-width="1.85"/>
<polygon points="347.50,519.30 352.72,515.68 353.68,520.79" fill="#1a1a1a"/>
<line x1="438.50" y1="508.30" x2="418.50" y2="508.30" stroke="#1a1a1a" stroke-width="1.85"/>
<line x1="418.50" y1="505.05" x2="418.50" y2="511.55" stroke="#1a1a1a" stroke-width="2.0500000000000003"/>
<line x1="470.50" y1="494.75" x2="468.81" y2="496.86" stroke="#1a1a1a" stroke-width="1.85"/>
<polygon points="465.50,501.00 467.09,494.85 471.15,498.10" fill="#1a1a1a"/>
<line x1="470.50" y1="494.75" x2="472.19" y2="492.64" stroke="#1a1a1a" stroke-width="1.85"/>
<polygon points="475.50,488.50 473.91,494.65 469.85,491.40" fill="#1a1a1a"/>
<line x1="414.00" y1="500.50" x2="414.00" y2="516.20" stroke="#1a1a1a" stroke-width="1.85"/>
<polygon points="414.00,521.50 411.40,515.70 416.60,515.70" fill="#1a1a1a"/>
<line x1="320.50" y1="530.00" x2="308.13" y2="543.14" stroke="#1a1a1a" stroke-width="1.85"/>
<polygon points="304.50,547.00 306.58,540.99 310.37,544.56" fill="#1a1a1a"/>
<line x1="414.00" y1="540.00" x2="414.00" y2="555.70" stroke="#1a1a1a" stroke-width="1.85"/>
<polygon points="414.00,561.00 411.40,555.20 416.60,555.20" fill="#1a1a1a"/>
<line x1="296.00" y1="564.50" x2="296.00" y2="581.20" stroke="#1a1a1a" stroke-width="1.85"/>
<polygon points="296.00,586.50 293.40,580.70 298.60,580.70" fill="#1a1a1a"/>
<line x1="306.00" y1="603.50" x2="325.74" y2="613.17" stroke="#1a1a1a" stroke-width="1.85"/>
<polygon points="330.50,615.50 324.15,615.28 326.43,610.61" fill="#1a1a1a"/>
<line x1="430.00" y1="570.80" x2="460.50" y2="570.80" stroke="#1a1a1a" stroke-width="1.85"/>
<line x1="460.50" y1="574.05" x2="460.50" y2="567.55" stroke="#1a1a1a" stroke-width="2.0500000000000003"/>
<line x1="431.50" y1="575.50" x2="451.36" y2="586.44" stroke="#1a1a1a" stroke-width="1.85"/>
<polygon points="456.00,589.00 449.67,588.48 452.17,583.92" fill="#1a1a1a"/>
<line x1="481.50" y1="562.50" x2="486.26" y2="542.65" stroke="#1a1a1a" stroke-width="1.85"/>
<polygon points="487.50,537.50 488.67,543.75 483.62,542.53" fill="#1a1a1a"/>
<line x1="414.00" y1="581.00" x2="414.00" y2="596.20" stroke="#1a1a1a" stroke-width="1.85" stroke-dasharray="3.6,2.6"/>
<polygon points="414.00,601.50 411.40,595.70 416.60,595.70" fill="#1a1a1a"/>
<line x1="363.00" y1="623.00" x2="380.85" y2="627.27" stroke="#1a1a1a" stroke-width="1.85" stroke-dasharray="3.6,2.6"/>
<polygon points="386.00,628.50 379.75,629.68 380.96,624.62" fill="#1a1a1a"/>
<ellipse cx="367" cy="396" rx="15.5" ry="9.1" fill="#cfe6f7"/>
<ellipse cx="367" cy="396" rx="15" ry="8.6" fill="#8fc7ef"/>
<text x="367" y="398.40" class="nd" fill="#122849" stroke="#122849" stroke-width="0.25" style="font-size:6.7px">IGF1</text>
<ellipse cx="317" cy="412.5" rx="16.1" ry="9.1" fill="#8fdcaa"/>
<ellipse cx="317" cy="412.5" rx="15.6" ry="8.6" fill="#13a24b"/>
<text x="317" y="414.90" class="nd" fill="#0a4020" stroke="#0a4020" stroke-width="0.25" style="font-size:6.7px">IGFBP4</text>
<ellipse cx="405.6" cy="398" rx="15.3" ry="7.8" fill="#8fdcaa"/>
<ellipse cx="405.6" cy="398" rx="14.8" ry="7.3" fill="#13a24b"/>
<text x="405.6" y="400.40" class="nd" fill="#0a4020" stroke="#0a4020" stroke-width="0.25" style="font-size:6.7px">IGFL4</text>
<ellipse cx="443" cy="395.6" rx="15.5" ry="8.5" fill="#8fdcaa"/>
<ellipse cx="443" cy="395.6" rx="15" ry="8" fill="#13a24b"/>
<text x="443" y="398.00" class="nd" fill="#0a4020" stroke="#0a4020" stroke-width="0.25" style="font-size:6.7px">IGF2</text>
<ellipse cx="501.6" cy="393.7" rx="15.0" ry="8.5" fill="#8fdcaa"/>
<ellipse cx="501.6" cy="393.7" rx="14.5" ry="8" fill="#13a24b"/>
<text x="501.6" y="396.10" class="nd" fill="#0a4020" stroke="#0a4020" stroke-width="0.25" style="font-size:6.7px" textLength="26.8" lengthAdjust="spacingAndGlyphs">IGF2BP2</text>
<ellipse cx="492.5" cy="412.5" rx="16.0" ry="8.5" fill="#8fdcaa"/>
<ellipse cx="492.5" cy="412.5" rx="15.5" ry="8" fill="#13a24b"/>
<text x="492.5" y="414.90" class="nd" fill="#0a4020" stroke="#0a4020" stroke-width="0.25" style="font-size:6.7px">IGF2BP2</text>
<ellipse cx="444" cy="469.4" rx="15.1" ry="8.6" fill="#cfe6f7"/>
<ellipse cx="444" cy="469.4" rx="14.6" ry="8.1" fill="#8fc7ef"/>
<text x="444" y="471.80" class="nd" fill="#122849" stroke="#122849" stroke-width="0.25" style="font-size:6.7px">IRS</text>
<ellipse cx="369.5" cy="488" rx="15.5" ry="8.9" fill="#cfe6f7"/>
<ellipse cx="369.5" cy="488" rx="15" ry="8.4" fill="#8fc7ef"/>
<text x="369.5" y="490.40" class="nd" fill="#122849" stroke="#122849" stroke-width="0.25" style="font-size:6.7px">RAS</text>
<ellipse cx="414.4" cy="491.1" rx="15.1" ry="8.3" fill="#cfe6f7"/>
<ellipse cx="414.4" cy="491.1" rx="14.6" ry="7.8" fill="#8fc7ef"/>
<text x="414.4" y="493.50" class="nd" fill="#122849" stroke="#122849" stroke-width="0.25" style="font-size:6.7px">PI3K</text>
<ellipse cx="487.5" cy="480.4" rx="15.5" ry="8.9" fill="#8fdcaa"/>
<ellipse cx="487.5" cy="480.4" rx="15" ry="8.4" fill="#13a24b"/>
<text x="487.5" y="482.80" class="nd" fill="#0a4020" stroke="#0a4020" stroke-width="0.25" style="font-size:6.7px">MSI2</text>
<ellipse cx="453.6" cy="508.3" rx="15.1" ry="9.0" fill="#f9c9a0"/>
<ellipse cx="453.6" cy="508.3" rx="14.6" ry="8.5" fill="#f0853a"/>
<text x="453.6" y="510.70" class="nd" fill="#2e1408" stroke="#2e1408" stroke-width="0.25" style="font-size:6.7px">PTEN</text>
<ellipse cx="331.6" cy="521" rx="15.1" ry="9.0" fill="#cfe6f7"/>
<ellipse cx="331.6" cy="521" rx="14.6" ry="8.5" fill="#8fc7ef"/>
<text x="331.6" y="523.40" class="nd" fill="#122849" stroke="#122849" stroke-width="0.25" style="font-size:6.7px">RAF</text>
<ellipse cx="378" cy="516.4" rx="15.1" ry="8.6" fill="#8fdcaa"/>
<ellipse cx="378" cy="516.4" rx="14.6" ry="8.1" fill="#13a24b"/>
<text x="378" y="518.80" class="nd" fill="#0a4020" stroke="#0a4020" stroke-width="0.25" style="font-size:6.7px">PRKCA</text>
<ellipse cx="414.5" cy="531" rx="15.5" ry="9.0" fill="#cfe6f7"/>
<ellipse cx="414.5" cy="531" rx="15" ry="8.5" fill="#8fc7ef"/>
<text x="414.5" y="533.40" class="nd" fill="#122849" stroke="#122849" stroke-width="0.25" style="font-size:6.7px">PDK1</text>
<ellipse cx="489" cy="527.9" rx="15.1" ry="8.9" fill="#f9c9a0"/>
<ellipse cx="489" cy="527.9" rx="14.6" ry="8.4" fill="#f0853a"/>
<text x="489" y="530.30" class="nd" fill="#2e1408" stroke="#2e1408" stroke-width="0.25" style="font-size:6.7px">BIM</text>
<ellipse cx="296.6" cy="556.2" rx="15.1" ry="8.7" fill="#cfe6f7"/>
<ellipse cx="296.6" cy="556.2" rx="14.6" ry="8.2" fill="#8fc7ef"/>
<text x="296.6" y="558.60" class="nd" fill="#122849" stroke="#122849" stroke-width="0.25" style="font-size:6.7px">MEK</text>
<ellipse cx="414.2" cy="571" rx="15.3" ry="9.5" fill="#8fdcaa"/>
<ellipse cx="414.2" cy="571" rx="14.8" ry="9" fill="#13a24b"/>
<text x="414.2" y="570.20" class="nd" fill="#0a4020" stroke="#0a4020" stroke-width="0.25" style="font-size:6.7px">AKT/</text>
<text x="414.2" y="576.60" class="nd" fill="#0a4020" stroke="#0a4020" stroke-width="0.25" style="font-size:6.7px">PKB</text>
<ellipse cx="480.4" cy="571.4" rx="15.3" ry="8.3" fill="#f9c9a0"/>
<ellipse cx="480.4" cy="571.4" rx="14.8" ry="7.8" fill="#f0853a"/>
<text x="480.4" y="573.80" class="nd" fill="#2e1408" stroke="#2e1408" stroke-width="0.25" style="font-size:6.7px" textLength="27.4" lengthAdjust="spacingAndGlyphs">FOXO3A</text>
<ellipse cx="473" cy="596" rx="15.1" ry="8.5" fill="#8fdcaa"/>
<ellipse cx="473" cy="596" rx="14.6" ry="8" fill="#13a24b"/>
<text x="473" y="598.40" class="nd" fill="#0a4020" stroke="#0a4020" stroke-width="0.25" style="font-size:6.7px">MKNK2</text>
<ellipse cx="296.4" cy="595.6" rx="15.1" ry="8.5" fill="#cfe6f7"/>
<ellipse cx="296.4" cy="595.6" rx="14.6" ry="8" fill="#8fc7ef"/>
<text x="296.4" y="598.00" class="nd" fill="#122849" stroke="#122849" stroke-width="0.25" style="font-size:6.7px">ERK</text>
<ellipse cx="346.6" cy="618.4" rx="15.1" ry="8.5" fill="#cfe6f7"/>
<ellipse cx="346.6" cy="618.4" rx="14.6" ry="8" fill="#8fc7ef"/>
<text x="346.6" y="620.80" class="nd" fill="#122849" stroke="#122849" stroke-width="0.25" style="font-size:6.7px">MYC</text>
<rect x="388.8" y="603.5" width="64.2" height="46.8" fill="#b4dce7" stroke="#1f2b33" stroke-width="1.5"/>
<text x="420.9" y="614.6" class="bx">Survival</text>
<text x="420.9" y="625" class="bx">Cell Growth</text>
<text x="420.9" y="636" class="bx">Proliferation</text>
<text x="420.9" y="646.8" class="bx">Anti-apoptosis</text>
</svg></body></html>
